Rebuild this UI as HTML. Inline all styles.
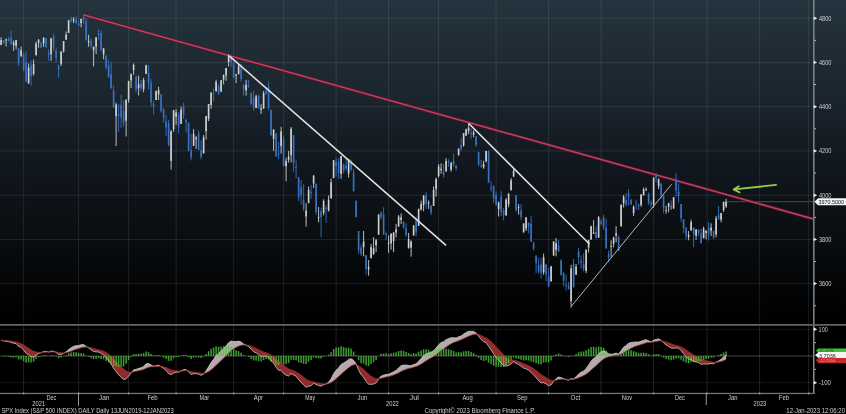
<!DOCTYPE html>
<html><head><meta charset="utf-8">
<style>
html,body{margin:0;padding:0;background:#000;width:846px;height:414px;overflow:hidden}
svg{display:block}
text{font-family:"Liberation Sans",sans-serif;fill:#cfcfcf}
</style></head><body>
<svg width="846" height="414" viewBox="0 0 846 414">
<defs>
<linearGradient id="bg" x1="0" y1="0" x2="0" y2="1">
<stop offset="0" stop-color="#24333d"/>
<stop offset="0.287" stop-color="#1b262e"/>
<stop offset="0.488" stop-color="#121820"/>
<stop offset="0.72" stop-color="#0a0e11"/>
<stop offset="0.9" stop-color="#030405"/>
<stop offset="1" stop-color="#000000"/>
</linearGradient>
</defs>
<rect x="0" y="0" width="846" height="324" fill="url(#bg)"/>
<g stroke="#ffffff" stroke-opacity="0.095" stroke-width="1" fill="none">
<path d="M0 18.2H813M0 62.4H813M0 106.7H813M0 150.9H813M0 195.2H813M0 239.4H813M0 283.6H813"/>
<path d="M23.6 0V324M78.6 0V324M128.6 0V324M176.1 0V324M233.6 0V324M283.6 0V324M336.1 0V324M388.6 0V324M438.6 0V324M496.1 0V324M548.6 0V324M601.1 0V324M653.6 0V324M707 0V324M759.6 0V324M808.6 0V324"/>

</g>
<g stroke="#ffffff" stroke-opacity="0.22" stroke-width="0.8" stroke-dasharray="1.2 1.2" fill="none">
<path d="M0 329.3H813M0 382.7H813"/>

</g>
<g stroke="#ffffff" stroke-opacity="0.16" stroke-width="0.8" fill="none"><path d="M23.6 326V393M78.6 326V393M128.6 326V393M176.1 326V393M233.6 326V393M283.6 326V393M336.1 326V393M388.6 326V393M438.6 326V393M496.1 326V393M548.6 326V393M601.1 326V393M653.6 326V393M707 326V393M759.6 326V393M808.6 326V393"/></g>
<line x1="0" y1="356" x2="813" y2="356" stroke="#ffffff" stroke-opacity="0.3" stroke-width="0.9"/>
<!-- last price line -->
<line x1="727" y1="201.7" x2="813" y2="201.7" stroke="#524b3c" stroke-width="1"/>
<line x1="83.6" y1="14.8" x2="813" y2="218.8" stroke="#701430" stroke-width="2.8"/>
<line x1="83.6" y1="14.8" x2="813" y2="218.8" stroke="#bc4c64" stroke-width="1.2"/>
<g id="candles">
<line x1="1.10" y1="37.2" x2="1.10" y2="45.0" stroke="#d0d0d0" stroke-width="0.9"/>
<rect x="0.30" y="40.1" width="1.6" height="4.9" fill="#d0d0d0"/>
<line x1="3.60" y1="40.1" x2="3.60" y2="43.9" stroke="#3873c4" stroke-width="0.9"/>
<rect x="2.80" y="40.1" width="1.6" height="2.9" fill="#3873c4"/>
<line x1="6.10" y1="38.6" x2="6.10" y2="46.5" stroke="#d0d0d0" stroke-width="0.9"/>
<rect x="5.30" y="39.4" width="1.6" height="1.0" fill="#d0d0d0"/>
<line x1="8.60" y1="36.6" x2="8.60" y2="41.6" stroke="#3873c4" stroke-width="0.9"/>
<rect x="7.80" y="38.6" width="1.6" height="2.2" fill="#3873c4"/>
<line x1="11.10" y1="30.8" x2="11.10" y2="44.3" stroke="#3873c4" stroke-width="0.9"/>
<rect x="10.30" y="37.7" width="1.6" height="6.6" fill="#3873c4"/>
<line x1="13.60" y1="40.5" x2="13.60" y2="50.9" stroke="#d0d0d0" stroke-width="0.9"/>
<rect x="12.80" y="42.5" width="1.6" height="2.7" fill="#d0d0d0"/>
<line x1="16.10" y1="39.9" x2="16.10" y2="49.4" stroke="#d0d0d0" stroke-width="0.9"/>
<rect x="15.30" y="40.1" width="1.6" height="5.8" fill="#d0d0d0"/>
<line x1="18.60" y1="48.3" x2="18.60" y2="65.8" stroke="#3873c4" stroke-width="0.9"/>
<rect x="17.80" y="48.3" width="1.6" height="15.3" fill="#3873c4"/>
<line x1="21.10" y1="46.5" x2="21.10" y2="56.9" stroke="#d0d0d0" stroke-width="0.9"/>
<rect x="20.30" y="50.3" width="1.6" height="6.0" fill="#d0d0d0"/>
<line x1="23.60" y1="52.3" x2="23.60" y2="71.3" stroke="#3873c4" stroke-width="0.9"/>
<rect x="22.80" y="53.6" width="1.6" height="16.1" fill="#3873c4"/>
<line x1="26.10" y1="50.9" x2="26.10" y2="82.3" stroke="#3873c4" stroke-width="0.9"/>
<rect x="25.30" y="62.0" width="1.6" height="19.7" fill="#3873c4"/>
<line x1="28.60" y1="63.5" x2="28.60" y2="83.7" stroke="#d0d0d0" stroke-width="0.9"/>
<rect x="27.80" y="67.5" width="1.6" height="16.1" fill="#d0d0d0"/>
<line x1="31.10" y1="60.7" x2="31.10" y2="85.7" stroke="#3873c4" stroke-width="0.9"/>
<rect x="30.30" y="64.9" width="1.6" height="11.3" fill="#3873c4"/>
<line x1="33.60" y1="59.6" x2="33.60" y2="75.7" stroke="#d0d0d0" stroke-width="0.9"/>
<rect x="32.80" y="64.2" width="1.6" height="9.7" fill="#d0d0d0"/>
<line x1="36.10" y1="41.6" x2="36.10" y2="55.4" stroke="#d0d0d0" stroke-width="0.9"/>
<rect x="35.30" y="43.4" width="1.6" height="11.9" fill="#d0d0d0"/>
<line x1="38.60" y1="39.0" x2="38.60" y2="47.8" stroke="#d0d0d0" stroke-width="0.9"/>
<rect x="37.80" y="40.1" width="1.6" height="2.4" fill="#d0d0d0"/>
<line x1="41.10" y1="41.4" x2="41.10" y2="48.1" stroke="#3873c4" stroke-width="0.9"/>
<rect x="40.30" y="43.0" width="1.6" height="4.6" fill="#3873c4"/>
<line x1="43.60" y1="37.4" x2="43.60" y2="47.0" stroke="#d0d0d0" stroke-width="0.9"/>
<rect x="42.80" y="37.7" width="1.6" height="5.5" fill="#d0d0d0"/>
<line x1="46.10" y1="37.9" x2="46.10" y2="47.8" stroke="#3873c4" stroke-width="0.9"/>
<rect x="45.30" y="37.9" width="1.6" height="9.5" fill="#3873c4"/>
<line x1="48.60" y1="49.2" x2="48.60" y2="60.7" stroke="#3873c4" stroke-width="0.9"/>
<rect x="47.80" y="52.9" width="1.6" height="2.0" fill="#3873c4"/>
<line x1="51.10" y1="38.1" x2="51.10" y2="60.9" stroke="#d0d0d0" stroke-width="0.9"/>
<rect x="50.30" y="38.3" width="1.6" height="15.9" fill="#d0d0d0"/>
<line x1="53.60" y1="33.5" x2="53.60" y2="51.2" stroke="#3873c4" stroke-width="0.9"/>
<rect x="52.80" y="35.9" width="1.6" height="11.5" fill="#3873c4"/>
<line x1="56.10" y1="47.8" x2="56.10" y2="62.4" stroke="#3873c4" stroke-width="0.9"/>
<rect x="55.30" y="50.9" width="1.6" height="7.1" fill="#3873c4"/>
<line x1="58.60" y1="64.4" x2="58.60" y2="77.7" stroke="#3873c4" stroke-width="0.9"/>
<rect x="57.80" y="65.3" width="1.6" height="4.2" fill="#3873c4"/>
<line x1="61.10" y1="51.2" x2="61.10" y2="66.0" stroke="#d0d0d0" stroke-width="0.9"/>
<rect x="60.30" y="51.6" width="1.6" height="12.2" fill="#d0d0d0"/>
<line x1="63.60" y1="41.0" x2="63.60" y2="52.5" stroke="#d0d0d0" stroke-width="0.9"/>
<rect x="62.80" y="41.0" width="1.6" height="10.4" fill="#d0d0d0"/>
<line x1="66.10" y1="31.5" x2="66.10" y2="39.7" stroke="#d0d0d0" stroke-width="0.9"/>
<rect x="65.30" y="34.6" width="1.6" height="5.1" fill="#d0d0d0"/>
<line x1="68.60" y1="20.2" x2="68.60" y2="33.0" stroke="#d0d0d0" stroke-width="0.9"/>
<rect x="67.80" y="20.2" width="1.6" height="12.8" fill="#d0d0d0"/>
<line x1="71.10" y1="16.7" x2="71.10" y2="22.6" stroke="#3873c4" stroke-width="0.9"/>
<rect x="70.30" y="19.3" width="1.6" height="2.0" fill="#3873c4"/>
<line x1="73.60" y1="17.1" x2="73.60" y2="23.1" stroke="#d0d0d0" stroke-width="0.9"/>
<rect x="72.80" y="19.7" width="1.6" height="1.1" fill="#d0d0d0"/>
<line x1="76.10" y1="16.4" x2="76.10" y2="23.7" stroke="#3873c4" stroke-width="0.9"/>
<rect x="75.30" y="19.5" width="1.6" height="3.5" fill="#3873c4"/>
<line x1="78.60" y1="21.1" x2="78.60" y2="25.9" stroke="#3873c4" stroke-width="0.9"/>
<rect x="77.80" y="23.7" width="1.6" height="2.0" fill="#3873c4"/>
<line x1="81.10" y1="18.9" x2="81.10" y2="27.3" stroke="#d0d0d0" stroke-width="0.9"/>
<rect x="80.30" y="18.9" width="1.6" height="4.2" fill="#d0d0d0"/>
<line x1="83.60" y1="14.2" x2="83.60" y2="24.0" stroke="#3873c4" stroke-width="0.9"/>
<rect x="82.80" y="17.3" width="1.6" height="2.4" fill="#3873c4"/>
<line x1="86.10" y1="18.6" x2="86.10" y2="40.5" stroke="#3873c4" stroke-width="0.9"/>
<rect x="85.30" y="21.1" width="1.6" height="19.2" fill="#3873c4"/>
<line x1="88.60" y1="34.8" x2="88.60" y2="46.7" stroke="#d0d0d0" stroke-width="0.9"/>
<rect x="87.80" y="41.2" width="1.6" height="1.0" fill="#d0d0d0"/>
<line x1="91.10" y1="38.8" x2="91.10" y2="48.5" stroke="#3873c4" stroke-width="0.9"/>
<rect x="90.30" y="40.8" width="1.6" height="4.6" fill="#3873c4"/>
<line x1="93.60" y1="46.3" x2="93.60" y2="66.4" stroke="#d0d0d0" stroke-width="0.9"/>
<rect x="92.80" y="47.0" width="1.6" height="3.3" fill="#d0d0d0"/>
<line x1="96.10" y1="37.2" x2="96.10" y2="54.0" stroke="#d0d0d0" stroke-width="0.9"/>
<rect x="95.30" y="37.4" width="1.6" height="9.5" fill="#d0d0d0"/>
<line x1="98.60" y1="29.5" x2="98.60" y2="39.9" stroke="#3873c4" stroke-width="0.9"/>
<rect x="97.80" y="34.1" width="1.6" height="1.0" fill="#3873c4"/>
<line x1="101.10" y1="30.6" x2="101.10" y2="51.2" stroke="#3873c4" stroke-width="0.9"/>
<rect x="100.30" y="32.8" width="1.6" height="16.6" fill="#3873c4"/>
<line x1="103.60" y1="48.1" x2="103.60" y2="59.3" stroke="#d0d0d0" stroke-width="0.9"/>
<rect x="102.80" y="48.5" width="1.6" height="5.8" fill="#d0d0d0"/>
<line x1="106.10" y1="55.4" x2="106.10" y2="69.3" stroke="#3873c4" stroke-width="0.9"/>
<rect x="105.30" y="55.4" width="1.6" height="12.2" fill="#3873c4"/>
<line x1="108.60" y1="59.8" x2="108.60" y2="77.7" stroke="#3873c4" stroke-width="0.9"/>
<rect x="107.80" y="65.1" width="1.6" height="12.2" fill="#3873c4"/>
<line x1="111.10" y1="62.0" x2="111.10" y2="88.3" stroke="#3873c4" stroke-width="0.9"/>
<rect x="110.30" y="74.2" width="1.6" height="14.2" fill="#3873c4"/>
<line x1="113.60" y1="85.7" x2="113.60" y2="107.6" stroke="#3873c4" stroke-width="0.9"/>
<rect x="112.80" y="91.0" width="1.6" height="16.1" fill="#3873c4"/>
<line x1="116.10" y1="102.7" x2="116.10" y2="146.1" stroke="#d0d0d0" stroke-width="0.9"/>
<rect x="115.30" y="104.5" width="1.6" height="11.7" fill="#d0d0d0"/>
<line x1="118.60" y1="104.2" x2="118.60" y2="131.7" stroke="#3873c4" stroke-width="0.9"/>
<rect x="117.80" y="114.2" width="1.6" height="2.0" fill="#3873c4"/>
<line x1="121.10" y1="95.0" x2="121.10" y2="127.9" stroke="#3873c4" stroke-width="0.9"/>
<rect x="120.30" y="104.9" width="1.6" height="12.8" fill="#3873c4"/>
<line x1="123.60" y1="100.3" x2="123.60" y2="126.8" stroke="#3873c4" stroke-width="0.9"/>
<rect x="122.80" y="110.9" width="1.6" height="11.9" fill="#3873c4"/>
<line x1="126.10" y1="99.6" x2="126.10" y2="136.5" stroke="#d0d0d0" stroke-width="0.9"/>
<rect x="125.30" y="99.6" width="1.6" height="21.0" fill="#d0d0d0"/>
<line x1="128.60" y1="80.8" x2="128.60" y2="102.7" stroke="#d0d0d0" stroke-width="0.9"/>
<rect x="127.80" y="81.0" width="1.6" height="18.8" fill="#d0d0d0"/>
<line x1="131.10" y1="73.3" x2="131.10" y2="88.1" stroke="#d0d0d0" stroke-width="0.9"/>
<rect x="130.30" y="74.4" width="1.6" height="6.0" fill="#d0d0d0"/>
<line x1="133.60" y1="63.5" x2="133.60" y2="74.8" stroke="#d0d0d0" stroke-width="0.9"/>
<rect x="132.80" y="64.9" width="1.6" height="5.1" fill="#d0d0d0"/>
<line x1="136.10" y1="75.3" x2="136.10" y2="92.5" stroke="#3873c4" stroke-width="0.9"/>
<rect x="135.30" y="76.8" width="1.6" height="12.8" fill="#3873c4"/>
<line x1="138.60" y1="75.7" x2="138.60" y2="95.4" stroke="#d0d0d0" stroke-width="0.9"/>
<rect x="137.80" y="84.3" width="1.6" height="4.0" fill="#d0d0d0"/>
<line x1="141.10" y1="79.9" x2="141.10" y2="91.0" stroke="#3873c4" stroke-width="0.9"/>
<rect x="140.30" y="83.5" width="1.6" height="4.6" fill="#3873c4"/>
<line x1="143.60" y1="77.7" x2="143.60" y2="92.3" stroke="#d0d0d0" stroke-width="0.9"/>
<rect x="142.80" y="79.9" width="1.6" height="9.1" fill="#d0d0d0"/>
<line x1="146.10" y1="64.7" x2="146.10" y2="73.9" stroke="#d0d0d0" stroke-width="0.9"/>
<rect x="145.30" y="65.3" width="1.6" height="8.6" fill="#d0d0d0"/>
<line x1="148.60" y1="65.1" x2="148.60" y2="89.6" stroke="#3873c4" stroke-width="0.9"/>
<rect x="147.80" y="72.8" width="1.6" height="10.8" fill="#3873c4"/>
<line x1="151.10" y1="78.6" x2="151.10" y2="106.5" stroke="#3873c4" stroke-width="0.9"/>
<rect x="150.30" y="83.2" width="1.6" height="19.2" fill="#3873c4"/>
<line x1="153.60" y1="100.7" x2="153.60" y2="114.4" stroke="#3873c4" stroke-width="0.9"/>
<rect x="152.80" y="104.0" width="1.6" height="2.4" fill="#3873c4"/>
<line x1="156.10" y1="90.8" x2="156.10" y2="100.0" stroke="#d0d0d0" stroke-width="0.9"/>
<rect x="155.30" y="90.8" width="1.6" height="9.3" fill="#d0d0d0"/>
<line x1="158.60" y1="86.8" x2="158.60" y2="100.0" stroke="#d0d0d0" stroke-width="0.9"/>
<rect x="157.80" y="90.1" width="1.6" height="4.4" fill="#d0d0d0"/>
<line x1="161.10" y1="94.3" x2="161.10" y2="112.4" stroke="#3873c4" stroke-width="0.9"/>
<rect x="160.30" y="94.3" width="1.6" height="16.8" fill="#3873c4"/>
<line x1="163.60" y1="108.0" x2="163.60" y2="122.8" stroke="#3873c4" stroke-width="0.9"/>
<rect x="162.80" y="110.0" width="1.6" height="8.0" fill="#3873c4"/>
<line x1="166.10" y1="115.1" x2="166.10" y2="135.9" stroke="#3873c4" stroke-width="0.9"/>
<rect x="165.30" y="121.7" width="1.6" height="6.0" fill="#3873c4"/>
<line x1="168.60" y1="120.0" x2="168.60" y2="146.3" stroke="#3873c4" stroke-width="0.9"/>
<rect x="167.80" y="123.3" width="1.6" height="21.9" fill="#3873c4"/>
<line x1="171.10" y1="129.9" x2="171.10" y2="169.7" stroke="#d0d0d0" stroke-width="0.9"/>
<rect x="170.30" y="131.5" width="1.6" height="29.4" fill="#d0d0d0"/>
<line x1="173.60" y1="110.0" x2="173.60" y2="131.9" stroke="#d0d0d0" stroke-width="0.9"/>
<rect x="172.80" y="110.0" width="1.6" height="19.2" fill="#d0d0d0"/>
<line x1="176.10" y1="109.1" x2="176.10" y2="124.8" stroke="#d0d0d0" stroke-width="0.9"/>
<rect x="175.30" y="112.4" width="1.6" height="4.4" fill="#d0d0d0"/>
<line x1="178.60" y1="112.2" x2="178.60" y2="133.4" stroke="#3873c4" stroke-width="0.9"/>
<rect x="177.80" y="114.6" width="1.6" height="12.8" fill="#3873c4"/>
<line x1="181.10" y1="106.5" x2="181.10" y2="123.9" stroke="#d0d0d0" stroke-width="0.9"/>
<rect x="180.30" y="109.6" width="1.6" height="14.4" fill="#d0d0d0"/>
<line x1="183.60" y1="102.9" x2="183.60" y2="118.8" stroke="#3873c4" stroke-width="0.9"/>
<rect x="182.80" y="106.5" width="1.6" height="8.4" fill="#3873c4"/>
<line x1="186.10" y1="119.3" x2="186.10" y2="132.3" stroke="#3873c4" stroke-width="0.9"/>
<rect x="185.30" y="119.5" width="1.6" height="2.9" fill="#3873c4"/>
<line x1="188.60" y1="122.8" x2="188.60" y2="151.1" stroke="#3873c4" stroke-width="0.9"/>
<rect x="187.80" y="122.8" width="1.6" height="27.9" fill="#3873c4"/>
<line x1="191.10" y1="133.9" x2="191.10" y2="160.4" stroke="#3873c4" stroke-width="0.9"/>
<rect x="190.30" y="150.5" width="1.6" height="6.9" fill="#3873c4"/>
<line x1="193.60" y1="129.0" x2="193.60" y2="145.8" stroke="#d0d0d0" stroke-width="0.9"/>
<rect x="192.80" y="133.7" width="1.6" height="12.2" fill="#d0d0d0"/>
<line x1="196.10" y1="135.9" x2="196.10" y2="148.9" stroke="#d0d0d0" stroke-width="0.9"/>
<rect x="195.30" y="137.6" width="1.6" height="1.5" fill="#d0d0d0"/>
<line x1="198.60" y1="130.6" x2="198.60" y2="150.5" stroke="#3873c4" stroke-width="0.9"/>
<rect x="197.80" y="133.4" width="1.6" height="16.6" fill="#3873c4"/>
<line x1="201.10" y1="140.5" x2="201.10" y2="159.5" stroke="#3873c4" stroke-width="0.9"/>
<rect x="200.30" y="150.3" width="1.6" height="6.6" fill="#3873c4"/>
<line x1="203.60" y1="135.0" x2="203.60" y2="153.6" stroke="#d0d0d0" stroke-width="0.9"/>
<rect x="202.80" y="137.2" width="1.6" height="16.1" fill="#d0d0d0"/>
<line x1="206.10" y1="116.0" x2="206.10" y2="139.6" stroke="#d0d0d0" stroke-width="0.9"/>
<rect x="205.30" y="116.0" width="1.6" height="15.3" fill="#d0d0d0"/>
<line x1="208.60" y1="104.0" x2="208.60" y2="121.1" stroke="#d0d0d0" stroke-width="0.9"/>
<rect x="207.80" y="104.0" width="1.6" height="14.8" fill="#d0d0d0"/>
<line x1="211.10" y1="92.3" x2="211.10" y2="108.9" stroke="#d0d0d0" stroke-width="0.9"/>
<rect x="210.30" y="92.7" width="1.6" height="12.4" fill="#d0d0d0"/>
<line x1="213.60" y1="88.8" x2="213.60" y2="101.4" stroke="#3873c4" stroke-width="0.9"/>
<rect x="212.80" y="93.0" width="1.6" height="1.0" fill="#3873c4"/>
<line x1="216.10" y1="79.7" x2="216.10" y2="91.4" stroke="#d0d0d0" stroke-width="0.9"/>
<rect x="215.30" y="81.9" width="1.6" height="9.5" fill="#d0d0d0"/>
<line x1="218.60" y1="84.3" x2="218.60" y2="94.5" stroke="#3873c4" stroke-width="0.9"/>
<rect x="217.80" y="86.1" width="1.6" height="8.2" fill="#3873c4"/>
<line x1="221.10" y1="80.1" x2="221.10" y2="92.3" stroke="#d0d0d0" stroke-width="0.9"/>
<rect x="220.30" y="80.1" width="1.6" height="11.3" fill="#d0d0d0"/>
<line x1="223.60" y1="74.4" x2="223.60" y2="84.3" stroke="#d0d0d0" stroke-width="0.9"/>
<rect x="222.80" y="75.0" width="1.6" height="4.6" fill="#d0d0d0"/>
<line x1="226.10" y1="68.0" x2="226.10" y2="80.8" stroke="#d0d0d0" stroke-width="0.9"/>
<rect x="225.30" y="68.0" width="1.6" height="7.5" fill="#d0d0d0"/>
<line x1="228.60" y1="54.3" x2="228.60" y2="66.4" stroke="#d0d0d0" stroke-width="0.9"/>
<rect x="227.80" y="55.4" width="1.6" height="6.6" fill="#d0d0d0"/>
<line x1="231.10" y1="56.5" x2="231.10" y2="66.6" stroke="#3873c4" stroke-width="0.9"/>
<rect x="230.30" y="57.1" width="1.6" height="4.9" fill="#3873c4"/>
<line x1="233.60" y1="61.6" x2="233.60" y2="77.9" stroke="#3873c4" stroke-width="0.9"/>
<rect x="232.80" y="62.7" width="1.6" height="15.3" fill="#3873c4"/>
<line x1="236.10" y1="73.9" x2="236.10" y2="83.0" stroke="#d0d0d0" stroke-width="0.9"/>
<rect x="235.30" y="74.4" width="1.6" height="1.3" fill="#d0d0d0"/>
<line x1="238.60" y1="64.0" x2="238.60" y2="74.2" stroke="#d0d0d0" stroke-width="0.9"/>
<rect x="237.80" y="66.2" width="1.6" height="8.0" fill="#d0d0d0"/>
<line x1="241.10" y1="64.0" x2="241.10" y2="81.5" stroke="#3873c4" stroke-width="0.9"/>
<rect x="240.30" y="68.6" width="1.6" height="10.4" fill="#3873c4"/>
<line x1="243.60" y1="83.9" x2="243.60" y2="95.6" stroke="#3873c4" stroke-width="0.9"/>
<rect x="242.80" y="85.7" width="1.6" height="3.1" fill="#3873c4"/>
<line x1="246.10" y1="79.9" x2="246.10" y2="95.6" stroke="#d0d0d0" stroke-width="0.9"/>
<rect x="245.30" y="84.6" width="1.6" height="5.8" fill="#d0d0d0"/>
<line x1="248.60" y1="79.9" x2="248.60" y2="87.2" stroke="#3873c4" stroke-width="0.9"/>
<rect x="247.80" y="85.9" width="1.6" height="1.3" fill="#3873c4"/>
<line x1="251.10" y1="92.5" x2="251.10" y2="104.9" stroke="#3873c4" stroke-width="0.9"/>
<rect x="250.30" y="93.0" width="1.6" height="10.8" fill="#3873c4"/>
<line x1="253.60" y1="91.0" x2="253.60" y2="110.7" stroke="#3873c4" stroke-width="0.9"/>
<rect x="252.80" y="98.5" width="1.6" height="8.8" fill="#3873c4"/>
<line x1="256.10" y1="94.7" x2="256.10" y2="108.2" stroke="#d0d0d0" stroke-width="0.9"/>
<rect x="255.30" y="96.5" width="1.6" height="11.5" fill="#d0d0d0"/>
<line x1="258.60" y1="95.0" x2="258.60" y2="108.4" stroke="#3873c4" stroke-width="0.9"/>
<rect x="257.80" y="95.8" width="1.6" height="12.6" fill="#3873c4"/>
<line x1="261.10" y1="104.2" x2="261.10" y2="114.0" stroke="#d0d0d0" stroke-width="0.9"/>
<rect x="260.30" y="108.4" width="1.6" height="1.5" fill="#d0d0d0"/>
<line x1="263.60" y1="91.0" x2="263.60" y2="108.7" stroke="#d0d0d0" stroke-width="0.9"/>
<rect x="262.80" y="93.0" width="1.6" height="15.7" fill="#d0d0d0"/>
<line x1="266.10" y1="87.0" x2="266.10" y2="94.5" stroke="#3873c4" stroke-width="0.9"/>
<rect x="265.30" y="90.5" width="1.6" height="3.1" fill="#3873c4"/>
<line x1="268.60" y1="81.7" x2="268.60" y2="110.0" stroke="#3873c4" stroke-width="0.9"/>
<rect x="267.80" y="86.8" width="1.6" height="21.2" fill="#3873c4"/>
<line x1="271.10" y1="109.8" x2="271.10" y2="136.1" stroke="#3873c4" stroke-width="0.9"/>
<rect x="270.30" y="110.0" width="1.6" height="25.0" fill="#3873c4"/>
<line x1="273.60" y1="129.0" x2="273.60" y2="150.9" stroke="#d0d0d0" stroke-width="0.9"/>
<rect x="272.80" y="129.7" width="1.6" height="9.1" fill="#d0d0d0"/>
<line x1="276.10" y1="133.4" x2="276.10" y2="156.4" stroke="#3873c4" stroke-width="0.9"/>
<rect x="275.30" y="133.4" width="1.6" height="23.0" fill="#3873c4"/>
<line x1="278.60" y1="142.1" x2="278.60" y2="159.3" stroke="#3873c4" stroke-width="0.9"/>
<rect x="277.80" y="153.8" width="1.6" height="1.0" fill="#3873c4"/>
<line x1="281.10" y1="126.8" x2="281.10" y2="153.6" stroke="#d0d0d0" stroke-width="0.9"/>
<rect x="280.30" y="131.5" width="1.6" height="14.6" fill="#d0d0d0"/>
<line x1="283.60" y1="135.7" x2="283.60" y2="166.2" stroke="#3873c4" stroke-width="0.9"/>
<rect x="282.80" y="139.2" width="1.6" height="26.8" fill="#3873c4"/>
<line x1="286.10" y1="157.8" x2="286.10" y2="181.4" stroke="#d0d0d0" stroke-width="0.9"/>
<rect x="285.30" y="160.9" width="1.6" height="5.3" fill="#d0d0d0"/>
<line x1="288.60" y1="150.9" x2="288.60" y2="162.6" stroke="#d0d0d0" stroke-width="0.9"/>
<rect x="287.80" y="156.4" width="1.6" height="3.5" fill="#d0d0d0"/>
<line x1="291.10" y1="127.0" x2="291.10" y2="162.4" stroke="#d0d0d0" stroke-width="0.9"/>
<rect x="290.30" y="128.8" width="1.6" height="26.3" fill="#d0d0d0"/>
<line x1="293.60" y1="135.2" x2="293.60" y2="171.5" stroke="#3873c4" stroke-width="0.9"/>
<rect x="292.80" y="135.2" width="1.6" height="27.4" fill="#3873c4"/>
<line x1="296.10" y1="160.2" x2="296.10" y2="178.1" stroke="#3873c4" stroke-width="0.9"/>
<rect x="295.30" y="166.8" width="1.6" height="1.1" fill="#3873c4"/>
<line x1="298.60" y1="177.0" x2="298.60" y2="200.7" stroke="#3873c4" stroke-width="0.9"/>
<rect x="297.80" y="177.2" width="1.6" height="19.9" fill="#3873c4"/>
<line x1="301.10" y1="179.9" x2="301.10" y2="204.5" stroke="#3873c4" stroke-width="0.9"/>
<rect x="300.30" y="187.2" width="1.6" height="7.7" fill="#3873c4"/>
<line x1="303.60" y1="184.3" x2="303.60" y2="211.1" stroke="#3873c4" stroke-width="0.9"/>
<rect x="302.80" y="199.8" width="1.6" height="9.5" fill="#3873c4"/>
<line x1="306.10" y1="203.1" x2="306.10" y2="226.6" stroke="#d0d0d0" stroke-width="0.9"/>
<rect x="305.30" y="210.6" width="1.6" height="5.8" fill="#d0d0d0"/>
<line x1="308.60" y1="186.5" x2="308.60" y2="203.1" stroke="#d0d0d0" stroke-width="0.9"/>
<rect x="307.80" y="189.9" width="1.6" height="13.3" fill="#d0d0d0"/>
<line x1="311.10" y1="185.0" x2="311.10" y2="198.7" stroke="#3873c4" stroke-width="0.9"/>
<rect x="310.30" y="192.3" width="1.6" height="1.1" fill="#3873c4"/>
<line x1="313.60" y1="175.3" x2="313.60" y2="187.9" stroke="#d0d0d0" stroke-width="0.9"/>
<rect x="312.80" y="175.5" width="1.6" height="8.0" fill="#d0d0d0"/>
<line x1="316.10" y1="183.7" x2="316.10" y2="214.8" stroke="#3873c4" stroke-width="0.9"/>
<rect x="315.30" y="183.7" width="1.6" height="28.3" fill="#3873c4"/>
<line x1="318.60" y1="207.1" x2="318.60" y2="222.4" stroke="#d0d0d0" stroke-width="0.9"/>
<rect x="317.80" y="217.1" width="1.6" height="1.0" fill="#d0d0d0"/>
<line x1="321.10" y1="207.8" x2="321.10" y2="237.2" stroke="#3873c4" stroke-width="0.9"/>
<rect x="320.30" y="211.3" width="1.6" height="5.8" fill="#3873c4"/>
<line x1="323.60" y1="199.4" x2="323.60" y2="215.3" stroke="#d0d0d0" stroke-width="0.9"/>
<rect x="322.80" y="200.9" width="1.6" height="11.9" fill="#d0d0d0"/>
<line x1="326.10" y1="205.1" x2="326.10" y2="222.8" stroke="#3873c4" stroke-width="0.9"/>
<rect x="325.30" y="207.8" width="1.6" height="1.0" fill="#3873c4"/>
<line x1="328.60" y1="195.4" x2="328.60" y2="211.5" stroke="#d0d0d0" stroke-width="0.9"/>
<rect x="327.80" y="199.8" width="1.6" height="10.8" fill="#d0d0d0"/>
<line x1="331.10" y1="178.6" x2="331.10" y2="198.5" stroke="#d0d0d0" stroke-width="0.9"/>
<rect x="330.30" y="182.3" width="1.6" height="16.1" fill="#d0d0d0"/>
<line x1="333.60" y1="160.2" x2="333.60" y2="178.1" stroke="#d0d0d0" stroke-width="0.9"/>
<rect x="332.80" y="160.2" width="1.6" height="17.9" fill="#d0d0d0"/>
<line x1="336.10" y1="157.8" x2="336.10" y2="176.6" stroke="#3873c4" stroke-width="0.9"/>
<rect x="335.30" y="161.8" width="1.6" height="4.2" fill="#3873c4"/>
<line x1="338.60" y1="158.2" x2="338.60" y2="178.8" stroke="#3873c4" stroke-width="0.9"/>
<rect x="337.80" y="162.2" width="1.6" height="10.6" fill="#3873c4"/>
<line x1="341.10" y1="156.0" x2="341.10" y2="178.8" stroke="#d0d0d0" stroke-width="0.9"/>
<rect x="340.30" y="156.0" width="1.6" height="17.9" fill="#d0d0d0"/>
<line x1="343.60" y1="163.5" x2="343.60" y2="173.5" stroke="#3873c4" stroke-width="0.9"/>
<rect x="342.80" y="164.9" width="1.6" height="6.2" fill="#3873c4"/>
<line x1="346.10" y1="158.0" x2="346.10" y2="170.8" stroke="#3873c4" stroke-width="0.9"/>
<rect x="345.30" y="165.5" width="1.6" height="2.9" fill="#3873c4"/>
<line x1="348.60" y1="158.9" x2="348.60" y2="177.5" stroke="#d0d0d0" stroke-width="0.9"/>
<rect x="347.80" y="159.5" width="1.6" height="14.2" fill="#d0d0d0"/>
<line x1="351.10" y1="159.8" x2="351.10" y2="171.5" stroke="#3873c4" stroke-width="0.9"/>
<rect x="350.30" y="162.4" width="1.6" height="7.1" fill="#3873c4"/>
<line x1="353.60" y1="168.6" x2="353.60" y2="191.4" stroke="#3873c4" stroke-width="0.9"/>
<rect x="352.80" y="172.6" width="1.6" height="18.6" fill="#3873c4"/>
<line x1="356.10" y1="200.7" x2="356.10" y2="217.3" stroke="#3873c4" stroke-width="0.9"/>
<rect x="355.30" y="200.7" width="1.6" height="16.4" fill="#3873c4"/>
<line x1="358.60" y1="231.0" x2="358.60" y2="254.0" stroke="#3873c4" stroke-width="0.9"/>
<rect x="357.80" y="231.0" width="1.6" height="19.5" fill="#3873c4"/>
<line x1="361.10" y1="244.3" x2="361.10" y2="256.0" stroke="#3873c4" stroke-width="0.9"/>
<rect x="360.30" y="247.6" width="1.6" height="6.2" fill="#3873c4"/>
<line x1="363.60" y1="231.0" x2="363.60" y2="256.4" stroke="#d0d0d0" stroke-width="0.9"/>
<rect x="362.80" y="241.6" width="1.6" height="5.8" fill="#d0d0d0"/>
<line x1="366.10" y1="255.1" x2="366.10" y2="274.8" stroke="#3873c4" stroke-width="0.9"/>
<rect x="365.30" y="255.1" width="1.6" height="13.7" fill="#3873c4"/>
<line x1="368.60" y1="260.0" x2="368.60" y2="275.7" stroke="#d0d0d0" stroke-width="0.9"/>
<rect x="367.80" y="267.1" width="1.6" height="2.2" fill="#d0d0d0"/>
<line x1="371.10" y1="243.8" x2="371.10" y2="258.2" stroke="#d0d0d0" stroke-width="0.9"/>
<rect x="370.30" y="247.1" width="1.6" height="11.1" fill="#d0d0d0"/>
<line x1="373.60" y1="237.2" x2="373.60" y2="254.9" stroke="#d0d0d0" stroke-width="0.9"/>
<rect x="372.80" y="248.2" width="1.6" height="5.8" fill="#d0d0d0"/>
<line x1="376.10" y1="239.0" x2="376.10" y2="252.0" stroke="#d0d0d0" stroke-width="0.9"/>
<rect x="375.30" y="240.3" width="1.6" height="4.9" fill="#d0d0d0"/>
<line x1="378.60" y1="214.2" x2="378.60" y2="234.8" stroke="#d0d0d0" stroke-width="0.9"/>
<rect x="377.80" y="214.6" width="1.6" height="20.1" fill="#d0d0d0"/>
<line x1="381.10" y1="211.1" x2="381.10" y2="219.7" stroke="#3873c4" stroke-width="0.9"/>
<rect x="380.30" y="212.9" width="1.6" height="4.2" fill="#3873c4"/>
<line x1="383.60" y1="207.3" x2="383.60" y2="235.0" stroke="#3873c4" stroke-width="0.9"/>
<rect x="382.80" y="214.4" width="1.6" height="20.1" fill="#3873c4"/>
<line x1="386.10" y1="231.4" x2="386.10" y2="239.6" stroke="#3873c4" stroke-width="0.9"/>
<rect x="385.30" y="233.6" width="1.6" height="1.5" fill="#3873c4"/>
<line x1="388.60" y1="235.4" x2="388.60" y2="252.9" stroke="#d0d0d0" stroke-width="0.9"/>
<rect x="387.80" y="242.7" width="1.6" height="1.0" fill="#d0d0d0"/>
<line x1="391.10" y1="233.0" x2="391.10" y2="249.8" stroke="#d0d0d0" stroke-width="0.9"/>
<rect x="390.30" y="233.9" width="1.6" height="9.5" fill="#d0d0d0"/>
<line x1="393.60" y1="232.3" x2="393.60" y2="252.2" stroke="#d0d0d0" stroke-width="0.9"/>
<rect x="392.80" y="232.5" width="1.6" height="8.6" fill="#d0d0d0"/>
<line x1="396.10" y1="223.9" x2="396.10" y2="237.4" stroke="#d0d0d0" stroke-width="0.9"/>
<rect x="395.30" y="229.4" width="1.6" height="3.1" fill="#d0d0d0"/>
<line x1="398.60" y1="215.1" x2="398.60" y2="226.6" stroke="#d0d0d0" stroke-width="0.9"/>
<rect x="397.80" y="216.6" width="1.6" height="10.0" fill="#d0d0d0"/>
<line x1="401.10" y1="213.3" x2="401.10" y2="224.1" stroke="#d0d0d0" stroke-width="0.9"/>
<rect x="400.30" y="217.5" width="1.6" height="2.4" fill="#d0d0d0"/>
<line x1="403.60" y1="221.7" x2="403.60" y2="229.0" stroke="#3873c4" stroke-width="0.9"/>
<rect x="402.80" y="221.7" width="1.6" height="5.5" fill="#3873c4"/>
<line x1="406.10" y1="223.3" x2="406.10" y2="236.7" stroke="#3873c4" stroke-width="0.9"/>
<rect x="405.30" y="228.1" width="1.6" height="7.1" fill="#3873c4"/>
<line x1="408.60" y1="233.0" x2="408.60" y2="248.7" stroke="#d0d0d0" stroke-width="0.9"/>
<rect x="407.80" y="239.0" width="1.6" height="8.8" fill="#d0d0d0"/>
<line x1="411.10" y1="240.3" x2="411.10" y2="256.7" stroke="#d0d0d0" stroke-width="0.9"/>
<rect x="410.30" y="241.6" width="1.6" height="6.0" fill="#d0d0d0"/>
<line x1="413.60" y1="225.2" x2="413.60" y2="235.4" stroke="#d0d0d0" stroke-width="0.9"/>
<rect x="412.80" y="225.5" width="1.6" height="10.0" fill="#d0d0d0"/>
<line x1="416.10" y1="216.6" x2="416.10" y2="236.3" stroke="#3873c4" stroke-width="0.9"/>
<rect x="415.30" y="221.0" width="1.6" height="11.5" fill="#3873c4"/>
<line x1="418.60" y1="208.4" x2="418.60" y2="225.9" stroke="#d0d0d0" stroke-width="0.9"/>
<rect x="417.80" y="209.1" width="1.6" height="16.8" fill="#d0d0d0"/>
<line x1="421.10" y1="200.7" x2="421.10" y2="210.6" stroke="#d0d0d0" stroke-width="0.9"/>
<rect x="420.30" y="204.0" width="1.6" height="5.5" fill="#d0d0d0"/>
<line x1="423.60" y1="195.4" x2="423.60" y2="211.3" stroke="#d0d0d0" stroke-width="0.9"/>
<rect x="422.80" y="195.4" width="1.6" height="9.7" fill="#d0d0d0"/>
<line x1="426.10" y1="192.3" x2="426.10" y2="208.7" stroke="#3873c4" stroke-width="0.9"/>
<rect x="425.30" y="195.4" width="1.6" height="8.2" fill="#3873c4"/>
<line x1="428.60" y1="200.5" x2="428.60" y2="209.1" stroke="#d0d0d0" stroke-width="0.9"/>
<rect x="427.80" y="202.5" width="1.6" height="1.0" fill="#d0d0d0"/>
<line x1="431.10" y1="205.3" x2="431.10" y2="215.1" stroke="#3873c4" stroke-width="0.9"/>
<rect x="430.30" y="205.6" width="1.6" height="7.1" fill="#3873c4"/>
<line x1="433.60" y1="186.5" x2="433.60" y2="206.0" stroke="#d0d0d0" stroke-width="0.9"/>
<rect x="432.80" y="189.9" width="1.6" height="16.1" fill="#d0d0d0"/>
<line x1="436.10" y1="177.7" x2="436.10" y2="196.7" stroke="#d0d0d0" stroke-width="0.9"/>
<rect x="435.30" y="179.0" width="1.6" height="10.2" fill="#d0d0d0"/>
<line x1="438.60" y1="164.0" x2="438.60" y2="177.5" stroke="#d0d0d0" stroke-width="0.9"/>
<rect x="437.80" y="166.4" width="1.6" height="9.5" fill="#d0d0d0"/>
<line x1="441.10" y1="163.3" x2="441.10" y2="173.7" stroke="#d0d0d0" stroke-width="0.9"/>
<rect x="440.30" y="168.8" width="1.6" height="1.3" fill="#d0d0d0"/>
<line x1="443.60" y1="164.0" x2="443.60" y2="177.7" stroke="#3873c4" stroke-width="0.9"/>
<rect x="442.80" y="171.9" width="1.6" height="3.1" fill="#3873c4"/>
<line x1="446.10" y1="158.2" x2="446.10" y2="171.5" stroke="#d0d0d0" stroke-width="0.9"/>
<rect x="445.30" y="160.9" width="1.6" height="10.6" fill="#d0d0d0"/>
<line x1="448.60" y1="159.3" x2="448.60" y2="166.8" stroke="#3873c4" stroke-width="0.9"/>
<rect x="447.80" y="161.1" width="1.6" height="1.0" fill="#3873c4"/>
<line x1="451.10" y1="161.8" x2="451.10" y2="171.5" stroke="#d0d0d0" stroke-width="0.9"/>
<rect x="450.30" y="163.1" width="1.6" height="6.6" fill="#d0d0d0"/>
<line x1="453.60" y1="153.8" x2="453.60" y2="166.8" stroke="#3873c4" stroke-width="0.9"/>
<rect x="452.80" y="160.9" width="1.6" height="3.3" fill="#3873c4"/>
<line x1="456.10" y1="164.9" x2="456.10" y2="170.4" stroke="#3873c4" stroke-width="0.9"/>
<rect x="455.30" y="165.7" width="1.6" height="2.4" fill="#3873c4"/>
<line x1="458.60" y1="148.5" x2="458.60" y2="155.8" stroke="#d0d0d0" stroke-width="0.9"/>
<rect x="457.80" y="148.7" width="1.6" height="6.4" fill="#d0d0d0"/>
<line x1="461.10" y1="138.1" x2="461.10" y2="150.7" stroke="#3873c4" stroke-width="0.9"/>
<rect x="460.30" y="144.9" width="1.6" height="4.2" fill="#3873c4"/>
<line x1="463.60" y1="133.2" x2="463.60" y2="146.7" stroke="#d0d0d0" stroke-width="0.9"/>
<rect x="462.80" y="133.2" width="1.6" height="12.2" fill="#d0d0d0"/>
<line x1="466.10" y1="128.6" x2="466.10" y2="135.9" stroke="#d0d0d0" stroke-width="0.9"/>
<rect x="465.30" y="129.5" width="1.6" height="6.0" fill="#d0d0d0"/>
<line x1="468.60" y1="123.3" x2="468.60" y2="133.9" stroke="#d0d0d0" stroke-width="0.9"/>
<rect x="467.80" y="127.7" width="1.6" height="3.3" fill="#d0d0d0"/>
<line x1="471.10" y1="128.4" x2="471.10" y2="139.2" stroke="#3873c4" stroke-width="0.9"/>
<rect x="470.30" y="133.2" width="1.6" height="1.1" fill="#3873c4"/>
<line x1="473.60" y1="130.3" x2="473.60" y2="137.2" stroke="#d0d0d0" stroke-width="0.9"/>
<rect x="472.80" y="132.3" width="1.6" height="2.4" fill="#d0d0d0"/>
<line x1="476.10" y1="136.3" x2="476.10" y2="146.9" stroke="#3873c4" stroke-width="0.9"/>
<rect x="475.30" y="136.3" width="1.6" height="8.4" fill="#3873c4"/>
<line x1="478.60" y1="151.8" x2="478.60" y2="166.2" stroke="#3873c4" stroke-width="0.9"/>
<rect x="477.80" y="152.0" width="1.6" height="12.6" fill="#3873c4"/>
<line x1="481.10" y1="159.8" x2="481.10" y2="167.7" stroke="#3873c4" stroke-width="0.9"/>
<rect x="480.30" y="165.7" width="1.6" height="1.1" fill="#3873c4"/>
<line x1="483.60" y1="160.7" x2="483.60" y2="168.8" stroke="#d0d0d0" stroke-width="0.9"/>
<rect x="482.80" y="164.0" width="1.6" height="3.3" fill="#d0d0d0"/>
<line x1="486.10" y1="150.9" x2="486.10" y2="162.6" stroke="#d0d0d0" stroke-width="0.9"/>
<rect x="485.30" y="151.1" width="1.6" height="10.0" fill="#d0d0d0"/>
<line x1="488.60" y1="150.0" x2="488.60" y2="182.6" stroke="#3873c4" stroke-width="0.9"/>
<rect x="487.80" y="151.4" width="1.6" height="31.0" fill="#3873c4"/>
<line x1="491.10" y1="181.2" x2="491.10" y2="191.4" stroke="#3873c4" stroke-width="0.9"/>
<rect x="490.30" y="187.6" width="1.6" height="1.0" fill="#3873c4"/>
<line x1="493.60" y1="185.4" x2="493.60" y2="202.9" stroke="#3873c4" stroke-width="0.9"/>
<rect x="492.80" y="186.1" width="1.6" height="12.2" fill="#3873c4"/>
<line x1="496.10" y1="191.8" x2="496.10" y2="205.3" stroke="#3873c4" stroke-width="0.9"/>
<rect x="495.30" y="194.9" width="1.6" height="10.2" fill="#3873c4"/>
<line x1="498.60" y1="201.6" x2="498.60" y2="216.6" stroke="#d0d0d0" stroke-width="0.9"/>
<rect x="497.80" y="202.5" width="1.6" height="6.6" fill="#d0d0d0"/>
<line x1="501.10" y1="191.2" x2="501.10" y2="216.0" stroke="#3873c4" stroke-width="0.9"/>
<rect x="500.30" y="196.5" width="1.6" height="15.5" fill="#3873c4"/>
<line x1="503.60" y1="208.0" x2="503.60" y2="220.4" stroke="#3873c4" stroke-width="0.9"/>
<rect x="502.80" y="210.6" width="1.6" height="4.9" fill="#3873c4"/>
<line x1="506.10" y1="198.0" x2="506.10" y2="216.0" stroke="#d0d0d0" stroke-width="0.9"/>
<rect x="505.30" y="199.6" width="1.6" height="15.5" fill="#d0d0d0"/>
<line x1="508.60" y1="192.9" x2="508.60" y2="207.3" stroke="#d0d0d0" stroke-width="0.9"/>
<rect x="507.80" y="193.8" width="1.6" height="10.4" fill="#d0d0d0"/>
<line x1="511.10" y1="178.1" x2="511.10" y2="190.3" stroke="#d0d0d0" stroke-width="0.9"/>
<rect x="510.30" y="180.3" width="1.6" height="10.0" fill="#d0d0d0"/>
<line x1="513.60" y1="168.8" x2="513.60" y2="176.6" stroke="#d0d0d0" stroke-width="0.9"/>
<rect x="512.80" y="170.8" width="1.6" height="5.8" fill="#d0d0d0"/>
<line x1="516.10" y1="195.2" x2="516.10" y2="212.0" stroke="#3873c4" stroke-width="0.9"/>
<rect x="515.30" y="195.2" width="1.6" height="14.8" fill="#3873c4"/>
<line x1="518.60" y1="204.0" x2="518.60" y2="214.6" stroke="#d0d0d0" stroke-width="0.9"/>
<rect x="517.80" y="207.1" width="1.6" height="1.1" fill="#d0d0d0"/>
<line x1="521.10" y1="204.2" x2="521.10" y2="220.2" stroke="#3873c4" stroke-width="0.9"/>
<rect x="520.30" y="210.2" width="1.6" height="6.9" fill="#3873c4"/>
<line x1="523.60" y1="223.9" x2="523.60" y2="231.0" stroke="#d0d0d0" stroke-width="0.9"/>
<rect x="522.80" y="223.3" width="1.6" height="9.3" fill="#d0d0d0"/>
<line x1="526.10" y1="217.1" x2="526.10" y2="231.0" stroke="#d0d0d0" stroke-width="0.9"/>
<rect x="525.30" y="217.3" width="1.6" height="11.3" fill="#d0d0d0"/>
<line x1="528.60" y1="222.6" x2="528.60" y2="233.4" stroke="#3873c4" stroke-width="0.9"/>
<rect x="527.80" y="222.8" width="1.6" height="4.2" fill="#3873c4"/>
<line x1="531.10" y1="215.7" x2="531.10" y2="241.8" stroke="#3873c4" stroke-width="0.9"/>
<rect x="530.30" y="223.7" width="1.6" height="17.9" fill="#3873c4"/>
<line x1="533.60" y1="241.6" x2="533.60" y2="250.5" stroke="#3873c4" stroke-width="0.9"/>
<rect x="532.80" y="243.4" width="1.6" height="5.3" fill="#3873c4"/>
<line x1="536.10" y1="255.5" x2="536.10" y2="273.0" stroke="#3873c4" stroke-width="0.9"/>
<rect x="535.30" y="255.5" width="1.6" height="7.5" fill="#3873c4"/>
<line x1="538.60" y1="258.2" x2="538.60" y2="273.9" stroke="#3873c4" stroke-width="0.9"/>
<rect x="537.80" y="265.5" width="1.6" height="6.0" fill="#3873c4"/>
<line x1="541.10" y1="257.8" x2="541.10" y2="278.6" stroke="#3873c4" stroke-width="0.9"/>
<rect x="540.30" y="264.4" width="1.6" height="8.8" fill="#3873c4"/>
<line x1="543.60" y1="253.6" x2="543.60" y2="274.8" stroke="#d0d0d0" stroke-width="0.9"/>
<rect x="542.80" y="257.3" width="1.6" height="15.0" fill="#d0d0d0"/>
<line x1="546.10" y1="264.4" x2="546.10" y2="281.4" stroke="#3873c4" stroke-width="0.9"/>
<rect x="545.30" y="264.4" width="1.6" height="10.4" fill="#3873c4"/>
<line x1="548.60" y1="267.9" x2="548.60" y2="287.2" stroke="#3873c4" stroke-width="0.9"/>
<rect x="547.80" y="276.1" width="1.6" height="10.6" fill="#3873c4"/>
<line x1="551.10" y1="265.9" x2="551.10" y2="281.4" stroke="#d0d0d0" stroke-width="0.9"/>
<rect x="550.30" y="266.4" width="1.6" height="15.0" fill="#d0d0d0"/>
<line x1="553.60" y1="241.4" x2="553.60" y2="255.5" stroke="#d0d0d0" stroke-width="0.9"/>
<rect x="552.80" y="241.4" width="1.6" height="14.2" fill="#d0d0d0"/>
<line x1="556.10" y1="238.1" x2="556.10" y2="256.4" stroke="#d0d0d0" stroke-width="0.9"/>
<rect x="555.30" y="243.2" width="1.6" height="6.6" fill="#d0d0d0"/>
<line x1="558.60" y1="239.8" x2="558.60" y2="251.6" stroke="#3873c4" stroke-width="0.9"/>
<rect x="557.80" y="245.6" width="1.6" height="6.0" fill="#3873c4"/>
<line x1="561.10" y1="259.3" x2="561.10" y2="275.7" stroke="#3873c4" stroke-width="0.9"/>
<rect x="560.30" y="260.2" width="1.6" height="14.6" fill="#3873c4"/>
<line x1="563.60" y1="272.1" x2="563.60" y2="286.3" stroke="#3873c4" stroke-width="0.9"/>
<rect x="562.80" y="273.2" width="1.6" height="7.7" fill="#3873c4"/>
<line x1="566.10" y1="274.6" x2="566.10" y2="290.5" stroke="#3873c4" stroke-width="0.9"/>
<rect x="565.30" y="284.7" width="1.6" height="1.3" fill="#3873c4"/>
<line x1="568.60" y1="281.9" x2="568.60" y2="289.6" stroke="#3873c4" stroke-width="0.9"/>
<rect x="567.80" y="285.6" width="1.6" height="3.1" fill="#3873c4"/>
<line x1="571.10" y1="264.8" x2="571.10" y2="307.8" stroke="#d0d0d0" stroke-width="0.9"/>
<rect x="570.30" y="268.4" width="1.6" height="32.7" fill="#d0d0d0"/>
<line x1="573.60" y1="258.9" x2="573.60" y2="287.2" stroke="#3873c4" stroke-width="0.9"/>
<rect x="572.80" y="263.7" width="1.6" height="23.7" fill="#3873c4"/>
<line x1="576.10" y1="264.0" x2="576.10" y2="274.8" stroke="#d0d0d0" stroke-width="0.9"/>
<rect x="575.30" y="266.6" width="1.6" height="8.2" fill="#d0d0d0"/>
<line x1="578.60" y1="247.8" x2="578.60" y2="264.6" stroke="#3873c4" stroke-width="0.9"/>
<rect x="577.80" y="251.3" width="1.6" height="5.8" fill="#3873c4"/>
<line x1="581.10" y1="255.3" x2="581.10" y2="268.8" stroke="#3873c4" stroke-width="0.9"/>
<rect x="580.30" y="260.9" width="1.6" height="1.8" fill="#3873c4"/>
<line x1="583.60" y1="253.3" x2="583.60" y2="271.3" stroke="#3873c4" stroke-width="0.9"/>
<rect x="582.80" y="264.0" width="1.6" height="5.1" fill="#3873c4"/>
<line x1="586.10" y1="248.9" x2="586.10" y2="273.2" stroke="#d0d0d0" stroke-width="0.9"/>
<rect x="585.30" y="250.0" width="1.6" height="21.0" fill="#d0d0d0"/>
<line x1="588.60" y1="239.6" x2="588.60" y2="252.5" stroke="#d0d0d0" stroke-width="0.9"/>
<rect x="587.80" y="240.1" width="1.6" height="7.5" fill="#d0d0d0"/>
<line x1="591.10" y1="225.7" x2="591.10" y2="239.6" stroke="#d0d0d0" stroke-width="0.9"/>
<rect x="590.30" y="226.3" width="1.6" height="13.3" fill="#d0d0d0"/>
<line x1="593.60" y1="220.2" x2="593.60" y2="233.9" stroke="#d0d0d0" stroke-width="0.9"/>
<rect x="592.80" y="232.5" width="1.6" height="1.3" fill="#d0d0d0"/>
<line x1="596.10" y1="226.3" x2="596.10" y2="238.7" stroke="#3873c4" stroke-width="0.9"/>
<rect x="595.30" y="231.9" width="1.6" height="6.0" fill="#3873c4"/>
<line x1="598.60" y1="216.2" x2="598.60" y2="237.6" stroke="#d0d0d0" stroke-width="0.9"/>
<rect x="597.80" y="217.1" width="1.6" height="20.6" fill="#d0d0d0"/>
<line x1="601.10" y1="218.8" x2="601.10" y2="225.5" stroke="#3873c4" stroke-width="0.9"/>
<rect x="600.30" y="221.5" width="1.6" height="2.0" fill="#3873c4"/>
<line x1="603.60" y1="214.8" x2="603.60" y2="229.9" stroke="#3873c4" stroke-width="0.9"/>
<rect x="602.80" y="217.1" width="1.6" height="10.0" fill="#3873c4"/>
<line x1="606.10" y1="218.6" x2="606.10" y2="248.7" stroke="#3873c4" stroke-width="0.9"/>
<rect x="605.30" y="227.7" width="1.6" height="20.6" fill="#3873c4"/>
<line x1="608.60" y1="250.5" x2="608.60" y2="262.0" stroke="#3873c4" stroke-width="0.9"/>
<rect x="607.80" y="254.2" width="1.6" height="2.9" fill="#3873c4"/>
<line x1="611.10" y1="240.3" x2="611.10" y2="256.9" stroke="#d0d0d0" stroke-width="0.9"/>
<rect x="610.30" y="245.8" width="1.6" height="1.0" fill="#d0d0d0"/>
<line x1="613.60" y1="236.5" x2="613.60" y2="247.4" stroke="#d0d0d0" stroke-width="0.9"/>
<rect x="612.80" y="237.9" width="1.6" height="5.8" fill="#d0d0d0"/>
<line x1="616.10" y1="226.1" x2="616.10" y2="242.3" stroke="#d0d0d0" stroke-width="0.9"/>
<rect x="615.30" y="233.2" width="1.6" height="2.4" fill="#d0d0d0"/>
<line x1="618.60" y1="235.2" x2="618.60" y2="250.9" stroke="#3873c4" stroke-width="0.9"/>
<rect x="617.80" y="237.2" width="1.6" height="13.5" fill="#3873c4"/>
<line x1="621.10" y1="204.2" x2="621.10" y2="226.3" stroke="#d0d0d0" stroke-width="0.9"/>
<rect x="620.30" y="204.9" width="1.6" height="21.5" fill="#d0d0d0"/>
<line x1="623.60" y1="194.9" x2="623.60" y2="207.5" stroke="#d0d0d0" stroke-width="0.9"/>
<rect x="622.80" y="196.7" width="1.6" height="6.6" fill="#d0d0d0"/>
<line x1="626.10" y1="193.2" x2="626.10" y2="206.4" stroke="#3873c4" stroke-width="0.9"/>
<rect x="625.30" y="200.0" width="1.6" height="4.6" fill="#3873c4"/>
<line x1="628.60" y1="189.0" x2="628.60" y2="205.3" stroke="#3873c4" stroke-width="0.9"/>
<rect x="627.80" y="193.6" width="1.6" height="3.3" fill="#3873c4"/>
<line x1="631.10" y1="198.9" x2="631.10" y2="205.3" stroke="#3873c4" stroke-width="0.9"/>
<rect x="630.30" y="200.2" width="1.6" height="4.0" fill="#3873c4"/>
<line x1="633.60" y1="205.3" x2="633.60" y2="216.0" stroke="#d0d0d0" stroke-width="0.9"/>
<rect x="632.80" y="206.9" width="1.6" height="6.2" fill="#d0d0d0"/>
<line x1="636.10" y1="199.8" x2="636.10" y2="209.5" stroke="#3873c4" stroke-width="0.9"/>
<rect x="635.30" y="202.7" width="1.6" height="1.0" fill="#3873c4"/>
<line x1="638.60" y1="203.6" x2="638.60" y2="210.0" stroke="#3873c4" stroke-width="0.9"/>
<rect x="637.80" y="204.9" width="1.6" height="1.3" fill="#3873c4"/>
<line x1="641.10" y1="194.3" x2="641.10" y2="206.9" stroke="#d0d0d0" stroke-width="0.9"/>
<rect x="640.30" y="194.5" width="1.6" height="10.4" fill="#d0d0d0"/>
<line x1="643.60" y1="187.6" x2="643.60" y2="195.6" stroke="#d0d0d0" stroke-width="0.9"/>
<rect x="642.80" y="189.2" width="1.6" height="6.0" fill="#d0d0d0"/>
<line x1="646.10" y1="187.4" x2="646.10" y2="190.7" stroke="#d0d0d0" stroke-width="0.9"/>
<rect x="645.30" y="189.4" width="1.6" height="1.0" fill="#d0d0d0"/>
<line x1="648.60" y1="192.5" x2="648.60" y2="204.9" stroke="#3873c4" stroke-width="0.9"/>
<rect x="647.80" y="194.1" width="1.6" height="9.1" fill="#3873c4"/>
<line x1="651.10" y1="200.5" x2="651.10" y2="207.5" stroke="#3873c4" stroke-width="0.9"/>
<rect x="650.30" y="202.9" width="1.6" height="1.5" fill="#3873c4"/>
<line x1="653.60" y1="177.5" x2="653.60" y2="207.8" stroke="#d0d0d0" stroke-width="0.9"/>
<rect x="652.80" y="177.5" width="1.6" height="27.0" fill="#d0d0d0"/>
<line x1="656.10" y1="172.8" x2="656.10" y2="182.3" stroke="#3873c4" stroke-width="0.9"/>
<rect x="655.30" y="175.9" width="1.6" height="2.4" fill="#3873c4"/>
<line x1="658.60" y1="178.3" x2="658.60" y2="189.2" stroke="#d0d0d0" stroke-width="0.9"/>
<rect x="657.80" y="179.2" width="1.6" height="6.9" fill="#d0d0d0"/>
<line x1="661.10" y1="183.4" x2="661.10" y2="198.7" stroke="#3873c4" stroke-width="0.9"/>
<rect x="660.30" y="183.4" width="1.6" height="11.9" fill="#3873c4"/>
<line x1="663.60" y1="194.9" x2="663.60" y2="213.3" stroke="#3873c4" stroke-width="0.9"/>
<rect x="662.80" y="196.0" width="1.6" height="12.2" fill="#3873c4"/>
<line x1="666.10" y1="205.8" x2="666.10" y2="213.7" stroke="#d0d0d0" stroke-width="0.9"/>
<rect x="665.30" y="209.8" width="1.6" height="1.0" fill="#d0d0d0"/>
<line x1="668.60" y1="202.7" x2="668.60" y2="212.2" stroke="#d0d0d0" stroke-width="0.9"/>
<rect x="667.80" y="203.3" width="1.6" height="3.5" fill="#d0d0d0"/>
<line x1="671.10" y1="200.2" x2="671.10" y2="210.0" stroke="#3873c4" stroke-width="0.9"/>
<rect x="670.30" y="205.3" width="1.6" height="4.4" fill="#3873c4"/>
<line x1="673.60" y1="197.2" x2="673.60" y2="208.7" stroke="#d0d0d0" stroke-width="0.9"/>
<rect x="672.80" y="197.2" width="1.6" height="11.3" fill="#d0d0d0"/>
<line x1="676.10" y1="172.8" x2="676.10" y2="196.5" stroke="#3873c4" stroke-width="0.9"/>
<rect x="675.30" y="179.9" width="1.6" height="10.8" fill="#3873c4"/>
<line x1="678.60" y1="183.4" x2="678.60" y2="202.7" stroke="#3873c4" stroke-width="0.9"/>
<rect x="677.80" y="191.6" width="1.6" height="4.4" fill="#3873c4"/>
<line x1="681.10" y1="204.2" x2="681.10" y2="221.9" stroke="#3873c4" stroke-width="0.9"/>
<rect x="680.30" y="204.2" width="1.6" height="13.9" fill="#3873c4"/>
<line x1="683.60" y1="219.3" x2="683.60" y2="233.2" stroke="#3873c4" stroke-width="0.9"/>
<rect x="682.80" y="219.3" width="1.6" height="8.6" fill="#3873c4"/>
<line x1="686.10" y1="227.2" x2="686.10" y2="239.4" stroke="#3873c4" stroke-width="0.9"/>
<rect x="685.30" y="227.7" width="1.6" height="7.7" fill="#3873c4"/>
<line x1="688.60" y1="231.0" x2="688.60" y2="240.3" stroke="#d0d0d0" stroke-width="0.9"/>
<rect x="687.80" y="234.8" width="1.6" height="2.2" fill="#d0d0d0"/>
<line x1="691.10" y1="219.7" x2="691.10" y2="230.6" stroke="#d0d0d0" stroke-width="0.9"/>
<rect x="690.30" y="222.1" width="1.6" height="8.4" fill="#d0d0d0"/>
<line x1="693.60" y1="227.5" x2="693.60" y2="247.1" stroke="#3873c4" stroke-width="0.9"/>
<rect x="692.80" y="227.5" width="1.6" height="7.1" fill="#3873c4"/>
<line x1="696.10" y1="229.2" x2="696.10" y2="239.8" stroke="#d0d0d0" stroke-width="0.9"/>
<rect x="695.30" y="229.4" width="1.6" height="6.4" fill="#d0d0d0"/>
<line x1="698.60" y1="229.2" x2="698.60" y2="236.5" stroke="#3873c4" stroke-width="0.9"/>
<rect x="697.80" y="229.9" width="1.6" height="3.1" fill="#3873c4"/>
<line x1="701.10" y1="228.6" x2="701.10" y2="243.2" stroke="#3873c4" stroke-width="0.9"/>
<rect x="700.30" y="233.0" width="1.6" height="10.2" fill="#3873c4"/>
<line x1="703.60" y1="226.6" x2="703.60" y2="238.3" stroke="#d0d0d0" stroke-width="0.9"/>
<rect x="702.80" y="228.6" width="1.6" height="9.5" fill="#d0d0d0"/>
<line x1="706.10" y1="230.6" x2="706.10" y2="239.2" stroke="#d0d0d0" stroke-width="0.9"/>
<rect x="705.30" y="230.6" width="1.6" height="2.4" fill="#d0d0d0"/>
<line x1="708.60" y1="222.1" x2="708.60" y2="240.5" stroke="#3873c4" stroke-width="0.9"/>
<rect x="707.80" y="227.7" width="1.6" height="6.4" fill="#3873c4"/>
<line x1="711.10" y1="223.3" x2="711.10" y2="236.1" stroke="#d0d0d0" stroke-width="0.9"/>
<rect x="710.30" y="227.7" width="1.6" height="2.9" fill="#d0d0d0"/>
<line x1="713.60" y1="230.6" x2="713.60" y2="239.0" stroke="#3873c4" stroke-width="0.9"/>
<rect x="712.80" y="230.8" width="1.6" height="6.9" fill="#3873c4"/>
<line x1="716.10" y1="216.0" x2="716.10" y2="237.4" stroke="#d0d0d0" stroke-width="0.9"/>
<rect x="715.30" y="218.4" width="1.6" height="15.9" fill="#d0d0d0"/>
<line x1="718.60" y1="206.0" x2="718.60" y2="219.9" stroke="#3873c4" stroke-width="0.9"/>
<rect x="717.80" y="215.1" width="1.6" height="3.8" fill="#3873c4"/>
<line x1="721.10" y1="212.9" x2="721.10" y2="222.4" stroke="#d0d0d0" stroke-width="0.9"/>
<rect x="720.30" y="213.1" width="1.6" height="6.6" fill="#d0d0d0"/>
<line x1="723.60" y1="201.8" x2="723.60" y2="211.8" stroke="#d0d0d0" stroke-width="0.9"/>
<rect x="722.80" y="201.8" width="1.6" height="8.4" fill="#d0d0d0"/>
<line x1="726.10" y1="198.7" x2="726.10" y2="208.0" stroke="#d0d0d0" stroke-width="0.9"/>
<rect x="725.30" y="201.7" width="1.6" height="4.5" fill="#d0d0d0"/>
</g>
<!-- trend lines -->
<line x1="229.5" y1="56.1" x2="446.1" y2="245.4" stroke="#e4e4e4" stroke-width="1.5"/>
<line x1="468.8" y1="123.5" x2="589.4" y2="244" stroke="#e4e4e4" stroke-width="1.5"/>
<line x1="571.5" y1="306" x2="671.6" y2="184.3" stroke="#c8c8c8" stroke-width="0.9"/>
<!-- green arrow -->
<g stroke="#92cc4c" stroke-width="1.9" fill="none" stroke-linecap="round" stroke-linejoin="round">
<line x1="776" y1="184.9" x2="734" y2="189.4"/>
<polyline points="738.8,186.2 733.6,189.5 739.6,192.3"/>
</g>
<!-- axes -->
<rect x="813" y="0" width="1.6" height="324" fill="#76828a"/>
<rect x="0" y="324.1" width="846" height="1.6" fill="#6e6e6e"/>
<rect x="813" y="325.5" width="1.5" height="68.5" fill="#8a8a8a"/>
<rect x="0" y="392.8" width="813" height="1.3" fill="#727272"/>
<rect x="23.0" y="392.6" width="1.2" height="1.7" fill="#a8a8a8"/><rect x="78.0" y="392.6" width="1.2" height="1.7" fill="#a8a8a8"/><rect x="128.0" y="392.6" width="1.2" height="1.7" fill="#a8a8a8"/><rect x="175.5" y="392.6" width="1.2" height="1.7" fill="#a8a8a8"/><rect x="233.0" y="392.6" width="1.2" height="1.7" fill="#a8a8a8"/><rect x="283.0" y="392.6" width="1.2" height="1.7" fill="#a8a8a8"/><rect x="335.5" y="392.6" width="1.2" height="1.7" fill="#a8a8a8"/><rect x="388.0" y="392.6" width="1.2" height="1.7" fill="#a8a8a8"/><rect x="438.0" y="392.6" width="1.2" height="1.7" fill="#a8a8a8"/><rect x="495.5" y="392.6" width="1.2" height="1.7" fill="#a8a8a8"/><rect x="548.0" y="392.6" width="1.2" height="1.7" fill="#a8a8a8"/><rect x="600.5" y="392.6" width="1.2" height="1.7" fill="#a8a8a8"/><rect x="653.0" y="392.6" width="1.2" height="1.7" fill="#a8a8a8"/><rect x="706.4" y="392.6" width="1.2" height="1.7" fill="#a8a8a8"/><rect x="759.0" y="392.6" width="1.2" height="1.7" fill="#a8a8a8"/><rect x="808.0" y="392.6" width="1.2" height="1.7" fill="#a8a8a8"/>
<!-- price labels -->
<g font-size="6.3" style="fill:#c8cccf">
<text x="818.9" y="20.7" textLength="12.5" lengthAdjust="spacingAndGlyphs">4800</text>
<text x="818.9" y="64.9" textLength="12.5" lengthAdjust="spacingAndGlyphs">4600</text>
<text x="818.9" y="109.2" textLength="12.5" lengthAdjust="spacingAndGlyphs">4400</text>
<text x="818.9" y="153.4" textLength="12.5" lengthAdjust="spacingAndGlyphs">4200</text>
<text x="818.9" y="197.7" textLength="12.5" lengthAdjust="spacingAndGlyphs">4000</text>
<text x="818.9" y="241.9" textLength="12.5" lengthAdjust="spacingAndGlyphs">3800</text>
<text x="818.9" y="286.1" textLength="12.5" lengthAdjust="spacingAndGlyphs">3600</text>
<text x="818.6" y="331.6" textLength="9.1" lengthAdjust="spacingAndGlyphs">100</text>
<text x="818.8" y="385.1" textLength="12.1" lengthAdjust="spacingAndGlyphs">-100</text>
</g>
<g fill="#f0f0f0">
<path d="M813.8 16.5L817.2 18.2L813.8 19.9Z"/><path d="M813.8 60.7L817.2 62.4L813.8 64.1Z"/><path d="M813.8 105.0L817.2 106.7L813.8 108.4Z"/><path d="M813.8 149.2L817.2 150.9L813.8 152.6Z"/><path d="M813.8 193.5L817.2 195.2L813.8 196.9Z"/><path d="M813.8 237.7L817.2 239.4L813.8 241.1Z"/><path d="M813.8 281.9L817.2 283.6L813.8 285.3Z"/><path d="M813.8 327.6L817.2 329.3L813.8 331.0Z"/><path d="M813.8 381.0L817.2 382.7L813.8 384.4Z"/><rect x="814.5" y="39.9" width="1.5" height="0.8"/><rect x="814.5" y="84.2" width="1.5" height="0.8"/><rect x="814.5" y="128.4" width="1.5" height="0.8"/><rect x="814.5" y="172.6" width="1.5" height="0.8"/><rect x="814.5" y="216.9" width="1.5" height="0.8"/><rect x="814.5" y="261.1" width="1.5" height="0.8"/><rect x="814.5" y="305.4" width="1.5" height="0.8"/><rect x="814.5" y="342.3" width="1.5" height="0.8"/><rect x="814.5" y="368.9" width="1.5" height="0.8"/>
</g>
<!-- last price label -->
<path d="M814.5 201.7L818 198.3H846V205.2H818Z" fill="#f4f4f4"/>
<text x="818.5" y="203.9" font-size="6" textLength="25.5" lengthAdjust="spacingAndGlyphs" style="fill:#111">3970.5000</text>
<!-- macd labels -->
<path d="M815.8 351L818.5 348.5H846V352.1H818.5Z" fill="#3ec43a"/>
<text x="819" y="351.6" font-size="4.2" style="fill:#1f6a1a">16.4590</text>
<path d="M815 355.2L818.5 352.1H846V358H818.5Z" fill="#f4f4f4"/>
<text x="819" y="357.6" font-size="5.5" style="fill:#222">3.7036</text>
<path d="M815.8 360L818.5 358H846V363.2H818.5Z" fill="#c42828"/>
<text x="819" y="362.2" font-size="4.2" style="fill:#f0a0a0">-12.7554</text>
<polygon points="1.10,340.43 3.60,340.93 6.10,341.16 8.60,341.63 11.10,342.50 13.60,343.17 16.10,343.61 18.60,346.35 21.10,347.32 23.60,350.07 26.10,353.43 28.60,354.73 31.10,356.60 33.60,356.90 36.10,355.13 38.60,353.43 41.10,352.85 41.92,352.40 41.92,352.40 41.10,352.46 38.60,352.37 36.10,352.10 33.60,351.34 31.10,349.96 28.60,348.29 26.10,346.69 23.60,345.00 21.10,343.73 18.60,342.84 16.10,341.96 13.60,341.55 11.10,341.14 8.60,340.80 6.10,340.59 3.60,340.45 1.10,340.33" fill="#922a2e"/>
<polygon points="41.92,352.40 43.60,351.48 46.10,351.39 48.59,352.09 48.59,352.09 46.10,352.09 43.60,352.27 41.92,352.40" fill="#b4acac"/>
<polygon points="48.59,352.09 48.60,352.09 48.61,352.09 48.61,352.09 48.60,352.09 48.59,352.09" fill="#922a2e"/>
<polygon points="48.61,352.09 51.10,351.09 53.60,351.24 54.83,351.83 54.83,351.83 53.60,351.76 51.10,351.89 48.61,352.09" fill="#b4acac"/>
<polygon points="54.83,351.83 56.10,352.43 58.60,354.51 61.10,354.44 63.60,353.37 64.50,352.86 64.50,352.86 63.60,352.93 61.10,352.82 58.60,352.42 56.10,351.90 54.83,351.83" fill="#922a2e"/>
<polygon points="64.50,352.86 66.10,351.95 68.60,349.50 71.10,347.76 73.60,346.34 76.10,345.65 78.60,345.49 81.10,344.83 83.60,344.52 86.10,346.39 87.16,347.09 87.16,347.09 86.10,347.00 83.60,347.15 81.10,347.81 78.60,348.56 76.10,349.33 73.60,350.25 71.10,351.22 68.60,352.09 66.10,352.74 64.50,352.86" fill="#b4acac"/>
<polygon points="87.16,347.09 88.60,348.05 91.10,349.84 93.60,351.47 96.10,351.88 98.60,351.97 101.10,353.51 103.60,354.66 106.10,357.41 108.60,360.49 111.10,363.91 113.60,368.32 116.10,371.37 118.60,374.72 121.10,377.27 123.60,379.52 126.10,378.78 128.60,376.15 131.10,373.23 131.89,372.14 131.89,372.14 131.10,372.30 128.60,372.07 126.10,371.05 123.60,369.11 121.10,366.51 118.60,363.82 116.10,361.10 113.60,358.53 111.10,356.08 108.60,354.13 106.10,352.54 103.60,351.32 101.10,350.48 98.60,349.72 96.10,349.16 93.60,348.48 91.10,347.74 88.60,347.21 87.16,347.09" fill="#922a2e"/>
<polygon points="131.89,372.14 133.60,369.82 136.10,369.38 138.60,368.37 141.10,367.80 143.60,366.43 146.10,363.83 148.60,363.48 151.10,364.92 153.60,366.34 156.10,365.82 158.60,365.23 160.52,366.35 160.52,366.35 158.60,366.29 156.10,366.56 153.60,366.74 151.10,366.84 148.60,367.33 146.10,368.29 143.60,369.40 141.10,370.14 138.60,370.73 136.10,371.32 133.60,371.80 131.89,372.14" fill="#b4acac"/>
<polygon points="160.52,366.35 161.10,366.69 163.60,368.38 166.10,370.49 168.60,373.66 171.10,374.63 173.60,373.11 176.10,371.95 178.60,372.32 180.52,371.07 180.52,371.07 178.60,371.13 176.10,370.84 173.60,370.56 171.10,369.92 168.60,368.75 166.10,367.52 163.60,366.77 161.10,366.37 160.52,366.35" fill="#922a2e"/>
<polygon points="180.52,371.07 181.10,370.69 183.60,369.76 186.10,369.60 187.21,370.68 187.21,370.68 186.10,370.55 183.60,370.79 181.10,371.04 180.52,371.07" fill="#b4acac"/>
<polygon points="187.21,370.68 188.60,372.04 191.10,374.41 193.60,373.78 196.10,373.47 198.60,374.22 201.10,375.25 203.60,373.95 204.15,373.23 204.15,373.23 203.60,373.35 201.10,373.20 198.60,372.68 196.10,372.30 193.60,372.00 191.10,371.56 188.60,370.85 187.21,370.68" fill="#922a2e"/>
<polygon points="204.15,373.23 206.10,370.68 208.60,366.81 211.10,362.56 213.60,359.20 216.10,355.44 218.60,353.70 221.10,351.00 223.60,348.45 226.10,345.85 228.60,342.72 231.10,341.06 233.60,341.46 236.10,341.60 238.60,341.09 241.10,342.09 243.60,343.97 245.89,345.07 245.89,345.07 243.60,345.05 241.10,345.32 238.60,346.13 236.10,347.39 233.60,348.83 231.10,350.67 228.60,353.08 226.10,355.67 223.60,358.12 221.10,360.54 218.60,362.93 216.10,365.23 213.60,367.68 211.10,369.80 208.60,371.61 206.10,372.81 204.15,373.23" fill="#b4acac"/>
<polygon points="245.89,345.07 246.10,345.17 248.60,346.50 251.10,349.24 253.60,351.81 256.10,352.82 258.60,354.80 261.10,356.37 263.60,356.10 266.10,355.96 268.60,357.22 271.10,360.80 273.60,363.04 276.10,367.29 278.60,370.32 281.10,370.30 283.60,373.44 286.10,375.21 288.60,375.95 291.10,373.65 293.60,374.90 296.10,376.17 298.60,379.75 301.10,382.07 303.60,384.98 306.10,387.05 308.60,386.32 311.10,385.75 313.60,383.23 316.10,384.46 318.60,385.59 321.10,386.14 323.60,384.67 326.10,383.90 326.13,383.88 326.13,383.88 326.10,383.88 323.60,383.88 321.10,383.68 318.60,383.07 316.10,382.44 313.60,381.93 311.10,381.60 308.60,380.57 306.10,379.13 303.60,377.15 301.10,375.19 298.60,373.47 296.10,371.90 293.60,370.83 291.10,369.82 288.60,368.86 286.10,367.08 283.60,365.05 281.10,362.96 278.60,361.12 276.10,358.82 273.60,356.70 271.10,355.12 268.60,353.69 266.10,352.81 263.60,352.03 261.10,351.01 258.60,349.66 256.10,348.38 253.60,347.27 251.10,346.13 248.60,345.36 246.10,345.07 245.89,345.07" fill="#922a2e"/>
<polygon points="326.13,383.88 328.60,382.17 331.10,378.83 333.60,373.82 336.10,370.25 338.60,367.95 341.10,364.39 343.60,362.96 346.10,361.50 348.60,359.44 351.10,358.75 353.60,360.26 356.10,363.89 356.47,364.78 356.47,364.78 356.10,364.62 353.60,364.81 351.10,365.94 348.60,367.74 346.10,369.82 343.60,371.90 341.10,374.13 338.60,376.57 336.10,378.72 333.60,380.84 331.10,382.60 328.60,383.54 326.13,383.88" fill="#b4acac"/>
<polygon points="356.47,364.78 358.60,369.86 361.10,374.70 363.60,377.11 366.10,381.37 368.60,384.25 371.10,384.27 373.60,384.07 376.10,382.83 378.60,379.07 378.80,378.84 378.80,378.84 378.60,378.88 376.10,378.84 373.60,377.84 371.10,376.28 368.60,374.29 366.10,371.80 363.60,369.40 361.10,367.48 358.60,365.67 356.47,364.78" fill="#922a2e"/>
<polygon points="378.80,378.84 381.10,376.11 383.60,375.24 386.10,374.40 388.60,374.25 391.10,373.08 393.60,371.84 396.10,370.39 398.60,367.86 401.10,365.82 403.60,365.05 406.10,365.11 408.60,365.42 411.10,365.80 413.60,364.44 416.10,363.96 418.60,361.23 421.10,358.55 423.60,355.58 426.10,354.05 428.60,352.77 431.10,352.78 433.60,350.63 436.10,347.97 438.60,344.76 441.10,342.61 443.60,341.67 446.10,339.73 448.60,338.47 451.10,337.82 453.60,337.63 456.10,338.08 458.60,336.75 461.10,335.98 463.60,334.07 466.10,332.46 468.60,331.29 471.10,331.30 473.60,331.40 476.10,332.95 477.11,334.32 477.11,334.32 476.10,334.14 473.60,334.44 471.10,335.20 468.60,336.17 466.10,337.39 463.60,338.62 461.10,339.76 458.60,340.71 456.10,341.70 453.60,342.60 451.10,343.84 448.60,345.35 446.10,347.07 443.60,348.90 441.10,350.71 438.60,352.73 436.10,354.73 433.60,356.42 431.10,357.86 428.60,359.13 426.10,360.73 423.60,362.39 421.10,364.10 418.60,365.48 416.10,366.55 413.60,367.20 411.10,367.88 408.60,368.40 406.10,369.15 403.60,370.16 401.10,371.44 398.60,372.84 396.10,374.09 393.60,375.02 391.10,375.81 388.60,376.49 386.10,377.05 383.60,377.71 381.10,378.33 378.80,378.84" fill="#b4acac"/>
<polygon points="477.11,334.32 478.60,336.34 481.10,339.44 483.60,341.77 486.10,342.53 488.60,346.28 491.10,349.91 493.60,353.77 496.10,357.49 498.60,360.13 501.10,363.06 503.60,365.62 506.10,365.99 508.60,365.60 511.10,363.90 513.60,361.55 516.10,363.42 518.60,364.52 521.10,366.25 523.60,368.08 526.10,368.80 528.60,370.16 531.10,372.47 533.60,374.77 536.10,377.74 538.60,380.64 541.10,382.79 543.60,382.64 546.10,383.90 548.60,385.72 551.10,384.85 553.60,381.43 554.44,380.49 554.44,380.49 553.60,380.62 551.10,380.42 548.60,379.32 546.10,377.71 543.60,376.17 541.10,374.55 538.60,372.49 536.10,370.45 533.60,368.63 531.10,367.09 528.60,365.75 526.10,364.65 523.60,363.61 521.10,362.49 518.60,361.55 516.10,360.81 513.60,360.16 511.10,359.81 508.60,358.79 506.10,357.08 503.60,354.86 501.10,352.17 498.60,349.44 496.10,346.77 493.60,344.09 491.10,341.67 488.60,339.61 486.10,337.94 483.60,336.80 481.10,335.55 478.60,334.58 477.11,334.32" fill="#922a2e"/>
<polygon points="554.44,380.49 556.10,378.63 558.60,376.99 561.10,377.70 563.60,378.61 565.00,379.14 565.00,379.14 563.60,379.09 561.10,379.20 558.60,379.58 556.10,380.23 554.44,380.49" fill="#b4acac"/>
<polygon points="565.00,379.14 566.10,379.55 568.60,380.28 570.06,379.31 570.06,379.31 568.60,379.40 566.10,379.18 565.00,379.14" fill="#922a2e"/>
<polygon points="570.06,379.31 571.10,378.61 573.60,378.88 576.10,376.83 578.60,374.06 581.10,372.23 583.60,371.22 586.10,368.43 588.60,365.14 591.10,361.14 593.60,358.54 596.10,356.99 598.60,353.76 601.10,351.87 603.60,350.78 606.10,352.03 608.60,353.90 611.10,354.31 613.60,353.88 616.10,353.12 618.60,354.25 621.10,350.74 623.60,347.26 626.10,345.40 628.60,343.32 631.10,342.53 633.60,342.33 636.10,341.94 638.60,342.12 641.10,341.28 643.60,340.29 646.10,339.71 648.60,340.76 651.10,341.89 653.60,340.33 656.10,339.37 658.60,338.90 661.10,340.28 661.70,340.88 661.70,340.88 661.10,340.79 658.60,340.91 656.10,341.42 653.60,341.93 651.10,342.33 648.60,342.44 646.10,342.85 643.60,343.64 641.10,344.48 638.60,345.28 636.10,346.07 633.60,347.10 631.10,348.29 628.60,349.73 626.10,351.34 623.60,352.82 621.10,354.21 618.60,355.08 616.10,355.29 613.60,355.83 611.10,356.32 608.60,356.82 606.10,357.56 603.60,358.94 601.10,360.98 598.60,363.25 596.10,365.63 593.60,367.79 591.10,370.10 588.60,372.34 586.10,374.15 583.60,375.58 581.10,376.66 578.60,377.77 576.10,378.70 573.60,379.17 571.10,379.24 570.06,379.31" fill="#b4acac"/>
<polygon points="661.70,340.88 663.60,342.77 666.10,345.03 668.60,346.30 671.10,348.03 673.60,348.26 676.10,347.91 678.60,348.24 681.10,350.71 683.60,353.65 686.10,356.70 688.60,359.02 691.10,359.59 693.60,361.19 696.10,361.89 698.60,362.72 701.10,364.26 703.60,363.98 706.10,363.85 708.60,364.01 711.10,363.42 713.60,363.83 716.10,362.22 716.14,362.19 716.14,362.19 716.10,362.20 713.60,362.19 711.10,361.78 708.60,361.37 706.10,360.71 703.60,359.93 701.10,358.92 698.60,357.58 696.10,356.30 693.60,354.90 691.10,353.32 688.60,351.76 686.10,349.94 683.60,348.25 681.10,346.90 678.60,345.95 676.10,345.38 673.60,344.74 671.10,343.86 668.60,342.82 666.10,341.95 663.60,341.18 661.70,340.88" fill="#922a2e"/>
<polygon points="716.14,362.19 718.60,360.92 721.10,359.29 723.60,356.90 726.10,355.00 726.10,359.41 723.60,360.51 721.10,361.41 718.60,361.94 716.14,362.19" fill="#b4acac"/>
<line x1="1.10" y1="356.0" x2="1.10" y2="356.1" stroke="#4cc83a" stroke-width="1.5" stroke-opacity="0.8"/>
<line x1="3.60" y1="356.0" x2="3.60" y2="356.5" stroke="#4cc83a" stroke-width="1.5" stroke-opacity="0.8"/>
<line x1="6.10" y1="356.0" x2="6.10" y2="356.6" stroke="#4cc83a" stroke-width="1.5" stroke-opacity="0.8"/>
<line x1="8.60" y1="356.0" x2="8.60" y2="356.8" stroke="#4cc83a" stroke-width="1.5" stroke-opacity="0.8"/>
<line x1="11.10" y1="356.0" x2="11.10" y2="357.4" stroke="#4cc83a" stroke-width="1.5" stroke-opacity="0.8"/>
<line x1="13.60" y1="356.0" x2="13.60" y2="357.6" stroke="#4cc83a" stroke-width="1.5" stroke-opacity="0.8"/>
<line x1="16.10" y1="356.0" x2="16.10" y2="357.6" stroke="#4cc83a" stroke-width="1.5" stroke-opacity="0.8"/>
<line x1="18.60" y1="356.0" x2="18.60" y2="359.5" stroke="#4cc83a" stroke-width="1.5" stroke-opacity="0.8"/>
<line x1="21.10" y1="356.0" x2="21.10" y2="359.6" stroke="#4cc83a" stroke-width="1.5" stroke-opacity="0.8"/>
<line x1="23.60" y1="356.0" x2="23.60" y2="361.1" stroke="#4cc83a" stroke-width="1.5" stroke-opacity="0.8"/>
<line x1="26.10" y1="356.0" x2="26.10" y2="362.7" stroke="#4cc83a" stroke-width="1.5" stroke-opacity="0.8"/>
<line x1="28.60" y1="356.0" x2="28.60" y2="362.4" stroke="#4cc83a" stroke-width="1.5" stroke-opacity="0.8"/>
<line x1="31.10" y1="356.0" x2="31.10" y2="362.6" stroke="#4cc83a" stroke-width="1.5" stroke-opacity="0.8"/>
<line x1="33.60" y1="356.0" x2="33.60" y2="361.6" stroke="#4cc83a" stroke-width="1.5" stroke-opacity="0.8"/>
<line x1="36.10" y1="356.0" x2="36.10" y2="359.0" stroke="#4cc83a" stroke-width="1.5" stroke-opacity="0.8"/>
<line x1="38.60" y1="356.0" x2="38.60" y2="357.1" stroke="#4cc83a" stroke-width="1.5" stroke-opacity="0.8"/>
<line x1="41.10" y1="356.0" x2="41.10" y2="356.4" stroke="#4cc83a" stroke-width="1.5" stroke-opacity="0.8"/>
<line x1="43.60" y1="356.0" x2="43.60" y2="355.2" stroke="#4cc83a" stroke-width="1.5" stroke-opacity="0.8"/>
<line x1="46.10" y1="356.0" x2="46.10" y2="355.3" stroke="#4cc83a" stroke-width="1.5" stroke-opacity="0.8"/>
<line x1="48.60" y1="356.0" x2="48.60" y2="356.0" stroke="#4cc83a" stroke-width="1.5" stroke-opacity="0.8"/>
<line x1="51.10" y1="356.0" x2="51.10" y2="355.2" stroke="#4cc83a" stroke-width="1.5" stroke-opacity="0.8"/>
<line x1="53.60" y1="356.0" x2="53.60" y2="355.5" stroke="#4cc83a" stroke-width="1.5" stroke-opacity="0.8"/>
<line x1="56.10" y1="356.0" x2="56.10" y2="356.5" stroke="#4cc83a" stroke-width="1.5" stroke-opacity="0.8"/>
<line x1="58.60" y1="356.0" x2="58.60" y2="358.1" stroke="#4cc83a" stroke-width="1.5" stroke-opacity="0.8"/>
<line x1="61.10" y1="356.0" x2="61.10" y2="357.6" stroke="#4cc83a" stroke-width="1.5" stroke-opacity="0.8"/>
<line x1="63.60" y1="356.0" x2="63.60" y2="356.4" stroke="#4cc83a" stroke-width="1.5" stroke-opacity="0.8"/>
<line x1="66.10" y1="356.0" x2="66.10" y2="355.2" stroke="#4cc83a" stroke-width="1.5" stroke-opacity="0.8"/>
<line x1="68.60" y1="356.0" x2="68.60" y2="353.4" stroke="#4cc83a" stroke-width="1.5" stroke-opacity="0.8"/>
<line x1="71.10" y1="356.0" x2="71.10" y2="352.5" stroke="#4cc83a" stroke-width="1.5" stroke-opacity="0.8"/>
<line x1="73.60" y1="356.0" x2="73.60" y2="352.1" stroke="#4cc83a" stroke-width="1.5" stroke-opacity="0.8"/>
<line x1="76.10" y1="356.0" x2="76.10" y2="352.3" stroke="#4cc83a" stroke-width="1.5" stroke-opacity="0.8"/>
<line x1="78.60" y1="356.0" x2="78.60" y2="352.9" stroke="#4cc83a" stroke-width="1.5" stroke-opacity="0.8"/>
<line x1="81.10" y1="356.0" x2="81.10" y2="353.0" stroke="#4cc83a" stroke-width="1.5" stroke-opacity="0.8"/>
<line x1="83.60" y1="356.0" x2="83.60" y2="353.4" stroke="#4cc83a" stroke-width="1.5" stroke-opacity="0.8"/>
<line x1="86.10" y1="356.0" x2="86.10" y2="355.4" stroke="#4cc83a" stroke-width="1.5" stroke-opacity="0.8"/>
<line x1="88.60" y1="356.0" x2="88.60" y2="356.8" stroke="#4cc83a" stroke-width="1.5" stroke-opacity="0.8"/>
<line x1="91.10" y1="356.0" x2="91.10" y2="358.1" stroke="#4cc83a" stroke-width="1.5" stroke-opacity="0.8"/>
<line x1="93.60" y1="356.0" x2="93.60" y2="359.0" stroke="#4cc83a" stroke-width="1.5" stroke-opacity="0.8"/>
<line x1="96.10" y1="356.0" x2="96.10" y2="358.7" stroke="#4cc83a" stroke-width="1.5" stroke-opacity="0.8"/>
<line x1="98.60" y1="356.0" x2="98.60" y2="358.2" stroke="#4cc83a" stroke-width="1.5" stroke-opacity="0.8"/>
<line x1="101.10" y1="356.0" x2="101.10" y2="359.0" stroke="#4cc83a" stroke-width="1.5" stroke-opacity="0.8"/>
<line x1="103.60" y1="356.0" x2="103.60" y2="359.3" stroke="#4cc83a" stroke-width="1.5" stroke-opacity="0.8"/>
<line x1="106.10" y1="356.0" x2="106.10" y2="360.9" stroke="#4cc83a" stroke-width="1.5" stroke-opacity="0.8"/>
<line x1="108.60" y1="356.0" x2="108.60" y2="362.4" stroke="#4cc83a" stroke-width="1.5" stroke-opacity="0.8"/>
<line x1="111.10" y1="356.0" x2="111.10" y2="363.8" stroke="#4cc83a" stroke-width="1.5" stroke-opacity="0.8"/>
<line x1="113.60" y1="356.0" x2="113.60" y2="365.8" stroke="#4cc83a" stroke-width="1.5" stroke-opacity="0.8"/>
<line x1="116.10" y1="356.0" x2="116.10" y2="366.3" stroke="#4cc83a" stroke-width="1.5" stroke-opacity="0.8"/>
<line x1="118.60" y1="356.0" x2="118.60" y2="366.9" stroke="#4cc83a" stroke-width="1.5" stroke-opacity="0.8"/>
<line x1="121.10" y1="356.0" x2="121.10" y2="366.8" stroke="#4cc83a" stroke-width="1.5" stroke-opacity="0.8"/>
<line x1="123.60" y1="356.0" x2="123.60" y2="366.4" stroke="#4cc83a" stroke-width="1.5" stroke-opacity="0.8"/>
<line x1="126.10" y1="356.0" x2="126.10" y2="363.7" stroke="#4cc83a" stroke-width="1.5" stroke-opacity="0.8"/>
<line x1="128.60" y1="356.0" x2="128.60" y2="360.1" stroke="#4cc83a" stroke-width="1.5" stroke-opacity="0.8"/>
<line x1="131.10" y1="356.0" x2="131.10" y2="356.9" stroke="#4cc83a" stroke-width="1.5" stroke-opacity="0.8"/>
<line x1="133.60" y1="356.0" x2="133.60" y2="354.0" stroke="#4cc83a" stroke-width="1.5" stroke-opacity="0.8"/>
<line x1="136.10" y1="356.0" x2="136.10" y2="354.1" stroke="#4cc83a" stroke-width="1.5" stroke-opacity="0.8"/>
<line x1="138.60" y1="356.0" x2="138.60" y2="353.6" stroke="#4cc83a" stroke-width="1.5" stroke-opacity="0.8"/>
<line x1="141.10" y1="356.0" x2="141.10" y2="353.7" stroke="#4cc83a" stroke-width="1.5" stroke-opacity="0.8"/>
<line x1="143.60" y1="356.0" x2="143.60" y2="353.0" stroke="#4cc83a" stroke-width="1.5" stroke-opacity="0.8"/>
<line x1="146.10" y1="356.0" x2="146.10" y2="351.5" stroke="#4cc83a" stroke-width="1.5" stroke-opacity="0.8"/>
<line x1="148.60" y1="356.0" x2="148.60" y2="352.2" stroke="#4cc83a" stroke-width="1.5" stroke-opacity="0.8"/>
<line x1="151.10" y1="356.0" x2="151.10" y2="354.1" stroke="#4cc83a" stroke-width="1.5" stroke-opacity="0.8"/>
<line x1="153.60" y1="356.0" x2="153.60" y2="355.6" stroke="#4cc83a" stroke-width="1.5" stroke-opacity="0.8"/>
<line x1="156.10" y1="356.0" x2="156.10" y2="355.3" stroke="#4cc83a" stroke-width="1.5" stroke-opacity="0.8"/>
<line x1="158.60" y1="356.0" x2="158.60" y2="354.9" stroke="#4cc83a" stroke-width="1.5" stroke-opacity="0.8"/>
<line x1="161.10" y1="356.0" x2="161.10" y2="356.3" stroke="#4cc83a" stroke-width="1.5" stroke-opacity="0.8"/>
<line x1="163.60" y1="356.0" x2="163.60" y2="357.6" stroke="#4cc83a" stroke-width="1.5" stroke-opacity="0.8"/>
<line x1="166.10" y1="356.0" x2="166.10" y2="359.0" stroke="#4cc83a" stroke-width="1.5" stroke-opacity="0.8"/>
<line x1="168.60" y1="356.0" x2="168.60" y2="360.9" stroke="#4cc83a" stroke-width="1.5" stroke-opacity="0.8"/>
<line x1="171.10" y1="356.0" x2="171.10" y2="360.7" stroke="#4cc83a" stroke-width="1.5" stroke-opacity="0.8"/>
<line x1="173.60" y1="356.0" x2="173.60" y2="358.5" stroke="#4cc83a" stroke-width="1.5" stroke-opacity="0.8"/>
<line x1="176.10" y1="356.0" x2="176.10" y2="357.1" stroke="#4cc83a" stroke-width="1.5" stroke-opacity="0.8"/>
<line x1="178.60" y1="356.0" x2="178.60" y2="357.2" stroke="#4cc83a" stroke-width="1.5" stroke-opacity="0.8"/>
<line x1="181.10" y1="356.0" x2="181.10" y2="355.6" stroke="#4cc83a" stroke-width="1.5" stroke-opacity="0.8"/>
<line x1="183.60" y1="356.0" x2="183.60" y2="355.0" stroke="#4cc83a" stroke-width="1.5" stroke-opacity="0.8"/>
<line x1="186.10" y1="356.0" x2="186.10" y2="355.0" stroke="#4cc83a" stroke-width="1.5" stroke-opacity="0.8"/>
<line x1="188.60" y1="356.0" x2="188.60" y2="357.2" stroke="#4cc83a" stroke-width="1.5" stroke-opacity="0.8"/>
<line x1="191.10" y1="356.0" x2="191.10" y2="358.9" stroke="#4cc83a" stroke-width="1.5" stroke-opacity="0.8"/>
<line x1="193.60" y1="356.0" x2="193.60" y2="357.8" stroke="#4cc83a" stroke-width="1.5" stroke-opacity="0.8"/>
<line x1="196.10" y1="356.0" x2="196.10" y2="357.2" stroke="#4cc83a" stroke-width="1.5" stroke-opacity="0.8"/>
<line x1="198.60" y1="356.0" x2="198.60" y2="357.5" stroke="#4cc83a" stroke-width="1.5" stroke-opacity="0.8"/>
<line x1="201.10" y1="356.0" x2="201.10" y2="358.1" stroke="#4cc83a" stroke-width="1.5" stroke-opacity="0.8"/>
<line x1="203.60" y1="356.0" x2="203.60" y2="356.6" stroke="#4cc83a" stroke-width="1.5" stroke-opacity="0.8"/>
<line x1="206.10" y1="356.0" x2="206.10" y2="353.9" stroke="#4cc83a" stroke-width="1.5" stroke-opacity="0.8"/>
<line x1="208.60" y1="356.0" x2="208.60" y2="351.2" stroke="#4cc83a" stroke-width="1.5" stroke-opacity="0.8"/>
<line x1="211.10" y1="356.0" x2="211.10" y2="348.8" stroke="#4cc83a" stroke-width="1.5" stroke-opacity="0.8"/>
<line x1="213.60" y1="356.0" x2="213.60" y2="347.5" stroke="#4cc83a" stroke-width="1.5" stroke-opacity="0.8"/>
<line x1="216.10" y1="356.0" x2="216.10" y2="346.2" stroke="#4cc83a" stroke-width="1.5" stroke-opacity="0.8"/>
<line x1="218.60" y1="356.0" x2="218.60" y2="346.8" stroke="#4cc83a" stroke-width="1.5" stroke-opacity="0.8"/>
<line x1="221.10" y1="356.0" x2="221.10" y2="346.5" stroke="#4cc83a" stroke-width="1.5" stroke-opacity="0.8"/>
<line x1="223.60" y1="356.0" x2="223.60" y2="346.3" stroke="#4cc83a" stroke-width="1.5" stroke-opacity="0.8"/>
<line x1="226.10" y1="356.0" x2="226.10" y2="346.2" stroke="#4cc83a" stroke-width="1.5" stroke-opacity="0.8"/>
<line x1="228.60" y1="356.0" x2="228.60" y2="345.6" stroke="#4cc83a" stroke-width="1.5" stroke-opacity="0.8"/>
<line x1="231.10" y1="356.0" x2="231.10" y2="346.4" stroke="#4cc83a" stroke-width="1.5" stroke-opacity="0.8"/>
<line x1="233.60" y1="356.0" x2="233.60" y2="348.6" stroke="#4cc83a" stroke-width="1.5" stroke-opacity="0.8"/>
<line x1="236.10" y1="356.0" x2="236.10" y2="350.2" stroke="#4cc83a" stroke-width="1.5" stroke-opacity="0.8"/>
<line x1="238.60" y1="356.0" x2="238.60" y2="351.0" stroke="#4cc83a" stroke-width="1.5" stroke-opacity="0.8"/>
<line x1="241.10" y1="356.0" x2="241.10" y2="352.8" stroke="#4cc83a" stroke-width="1.5" stroke-opacity="0.8"/>
<line x1="243.60" y1="356.0" x2="243.60" y2="354.9" stroke="#4cc83a" stroke-width="1.5" stroke-opacity="0.8"/>
<line x1="246.10" y1="356.0" x2="246.10" y2="356.1" stroke="#4cc83a" stroke-width="1.5" stroke-opacity="0.8"/>
<line x1="248.60" y1="356.0" x2="248.60" y2="357.1" stroke="#4cc83a" stroke-width="1.5" stroke-opacity="0.8"/>
<line x1="251.10" y1="356.0" x2="251.10" y2="359.1" stroke="#4cc83a" stroke-width="1.5" stroke-opacity="0.8"/>
<line x1="253.60" y1="356.0" x2="253.60" y2="360.5" stroke="#4cc83a" stroke-width="1.5" stroke-opacity="0.8"/>
<line x1="256.10" y1="356.0" x2="256.10" y2="360.4" stroke="#4cc83a" stroke-width="1.5" stroke-opacity="0.8"/>
<line x1="258.60" y1="356.0" x2="258.60" y2="361.1" stroke="#4cc83a" stroke-width="1.5" stroke-opacity="0.8"/>
<line x1="261.10" y1="356.0" x2="261.10" y2="361.4" stroke="#4cc83a" stroke-width="1.5" stroke-opacity="0.8"/>
<line x1="263.60" y1="356.0" x2="263.60" y2="360.1" stroke="#4cc83a" stroke-width="1.5" stroke-opacity="0.8"/>
<line x1="266.10" y1="356.0" x2="266.10" y2="359.1" stroke="#4cc83a" stroke-width="1.5" stroke-opacity="0.8"/>
<line x1="268.60" y1="356.0" x2="268.60" y2="359.5" stroke="#4cc83a" stroke-width="1.5" stroke-opacity="0.8"/>
<line x1="271.10" y1="356.0" x2="271.10" y2="361.7" stroke="#4cc83a" stroke-width="1.5" stroke-opacity="0.8"/>
<line x1="273.60" y1="356.0" x2="273.60" y2="362.3" stroke="#4cc83a" stroke-width="1.5" stroke-opacity="0.8"/>
<line x1="276.10" y1="356.0" x2="276.10" y2="364.5" stroke="#4cc83a" stroke-width="1.5" stroke-opacity="0.8"/>
<line x1="278.60" y1="356.0" x2="278.60" y2="365.2" stroke="#4cc83a" stroke-width="1.5" stroke-opacity="0.8"/>
<line x1="281.10" y1="356.0" x2="281.10" y2="363.3" stroke="#4cc83a" stroke-width="1.5" stroke-opacity="0.8"/>
<line x1="283.60" y1="356.0" x2="283.60" y2="364.4" stroke="#4cc83a" stroke-width="1.5" stroke-opacity="0.8"/>
<line x1="286.10" y1="356.0" x2="286.10" y2="364.1" stroke="#4cc83a" stroke-width="1.5" stroke-opacity="0.8"/>
<line x1="288.60" y1="356.0" x2="288.60" y2="363.1" stroke="#4cc83a" stroke-width="1.5" stroke-opacity="0.8"/>
<line x1="291.10" y1="356.0" x2="291.10" y2="359.8" stroke="#4cc83a" stroke-width="1.5" stroke-opacity="0.8"/>
<line x1="293.60" y1="356.0" x2="293.60" y2="360.1" stroke="#4cc83a" stroke-width="1.5" stroke-opacity="0.8"/>
<line x1="296.10" y1="356.0" x2="296.10" y2="360.3" stroke="#4cc83a" stroke-width="1.5" stroke-opacity="0.8"/>
<line x1="298.60" y1="356.0" x2="298.60" y2="362.3" stroke="#4cc83a" stroke-width="1.5" stroke-opacity="0.8"/>
<line x1="301.10" y1="356.0" x2="301.10" y2="362.9" stroke="#4cc83a" stroke-width="1.5" stroke-opacity="0.8"/>
<line x1="303.60" y1="356.0" x2="303.60" y2="363.8" stroke="#4cc83a" stroke-width="1.5" stroke-opacity="0.8"/>
<line x1="306.10" y1="356.0" x2="306.10" y2="363.9" stroke="#4cc83a" stroke-width="1.5" stroke-opacity="0.8"/>
<line x1="308.60" y1="356.0" x2="308.60" y2="361.8" stroke="#4cc83a" stroke-width="1.5" stroke-opacity="0.8"/>
<line x1="311.10" y1="356.0" x2="311.10" y2="360.1" stroke="#4cc83a" stroke-width="1.5" stroke-opacity="0.8"/>
<line x1="313.60" y1="356.0" x2="313.60" y2="357.3" stroke="#4cc83a" stroke-width="1.5" stroke-opacity="0.8"/>
<line x1="316.10" y1="356.0" x2="316.10" y2="358.0" stroke="#4cc83a" stroke-width="1.5" stroke-opacity="0.8"/>
<line x1="318.60" y1="356.0" x2="318.60" y2="358.5" stroke="#4cc83a" stroke-width="1.5" stroke-opacity="0.8"/>
<line x1="321.10" y1="356.0" x2="321.10" y2="358.5" stroke="#4cc83a" stroke-width="1.5" stroke-opacity="0.8"/>
<line x1="323.60" y1="356.0" x2="323.60" y2="356.8" stroke="#4cc83a" stroke-width="1.5" stroke-opacity="0.8"/>
<line x1="326.10" y1="356.0" x2="326.10" y2="356.0" stroke="#4cc83a" stroke-width="1.5" stroke-opacity="0.8"/>
<line x1="328.60" y1="356.0" x2="328.60" y2="354.6" stroke="#4cc83a" stroke-width="1.5" stroke-opacity="0.8"/>
<line x1="331.10" y1="356.0" x2="331.10" y2="352.2" stroke="#4cc83a" stroke-width="1.5" stroke-opacity="0.8"/>
<line x1="333.60" y1="356.0" x2="333.60" y2="349.0" stroke="#4cc83a" stroke-width="1.5" stroke-opacity="0.8"/>
<line x1="336.10" y1="356.0" x2="336.10" y2="347.5" stroke="#4cc83a" stroke-width="1.5" stroke-opacity="0.8"/>
<line x1="338.60" y1="356.0" x2="338.60" y2="347.4" stroke="#4cc83a" stroke-width="1.5" stroke-opacity="0.8"/>
<line x1="341.10" y1="356.0" x2="341.10" y2="346.3" stroke="#4cc83a" stroke-width="1.5" stroke-opacity="0.8"/>
<line x1="343.60" y1="356.0" x2="343.60" y2="347.1" stroke="#4cc83a" stroke-width="1.5" stroke-opacity="0.8"/>
<line x1="346.10" y1="356.0" x2="346.10" y2="347.7" stroke="#4cc83a" stroke-width="1.5" stroke-opacity="0.8"/>
<line x1="348.60" y1="356.0" x2="348.60" y2="347.7" stroke="#4cc83a" stroke-width="1.5" stroke-opacity="0.8"/>
<line x1="351.10" y1="356.0" x2="351.10" y2="348.8" stroke="#4cc83a" stroke-width="1.5" stroke-opacity="0.8"/>
<line x1="353.60" y1="356.0" x2="353.60" y2="351.5" stroke="#4cc83a" stroke-width="1.5" stroke-opacity="0.8"/>
<line x1="356.10" y1="356.0" x2="356.10" y2="355.3" stroke="#4cc83a" stroke-width="1.5" stroke-opacity="0.8"/>
<line x1="358.60" y1="356.0" x2="358.60" y2="360.2" stroke="#4cc83a" stroke-width="1.5" stroke-opacity="0.8"/>
<line x1="361.10" y1="356.0" x2="361.10" y2="363.2" stroke="#4cc83a" stroke-width="1.5" stroke-opacity="0.8"/>
<line x1="363.60" y1="356.0" x2="363.60" y2="363.7" stroke="#4cc83a" stroke-width="1.5" stroke-opacity="0.8"/>
<line x1="366.10" y1="356.0" x2="366.10" y2="365.6" stroke="#4cc83a" stroke-width="1.5" stroke-opacity="0.8"/>
<line x1="368.60" y1="356.0" x2="368.60" y2="366.0" stroke="#4cc83a" stroke-width="1.5" stroke-opacity="0.8"/>
<line x1="371.10" y1="356.0" x2="371.10" y2="364.0" stroke="#4cc83a" stroke-width="1.5" stroke-opacity="0.8"/>
<line x1="373.60" y1="356.0" x2="373.60" y2="362.2" stroke="#4cc83a" stroke-width="1.5" stroke-opacity="0.8"/>
<line x1="376.10" y1="356.0" x2="376.10" y2="360.0" stroke="#4cc83a" stroke-width="1.5" stroke-opacity="0.8"/>
<line x1="378.60" y1="356.0" x2="378.60" y2="356.2" stroke="#4cc83a" stroke-width="1.5" stroke-opacity="0.8"/>
<line x1="381.10" y1="356.0" x2="381.10" y2="353.8" stroke="#4cc83a" stroke-width="1.5" stroke-opacity="0.8"/>
<line x1="383.60" y1="356.0" x2="383.60" y2="353.5" stroke="#4cc83a" stroke-width="1.5" stroke-opacity="0.8"/>
<line x1="386.10" y1="356.0" x2="386.10" y2="353.3" stroke="#4cc83a" stroke-width="1.5" stroke-opacity="0.8"/>
<line x1="388.60" y1="356.0" x2="388.60" y2="353.8" stroke="#4cc83a" stroke-width="1.5" stroke-opacity="0.8"/>
<line x1="391.10" y1="356.0" x2="391.10" y2="353.3" stroke="#4cc83a" stroke-width="1.5" stroke-opacity="0.8"/>
<line x1="393.60" y1="356.0" x2="393.60" y2="352.8" stroke="#4cc83a" stroke-width="1.5" stroke-opacity="0.8"/>
<line x1="396.10" y1="356.0" x2="396.10" y2="352.3" stroke="#4cc83a" stroke-width="1.5" stroke-opacity="0.8"/>
<line x1="398.60" y1="356.0" x2="398.60" y2="351.0" stroke="#4cc83a" stroke-width="1.5" stroke-opacity="0.8"/>
<line x1="401.10" y1="356.0" x2="401.10" y2="350.4" stroke="#4cc83a" stroke-width="1.5" stroke-opacity="0.8"/>
<line x1="403.60" y1="356.0" x2="403.60" y2="350.9" stroke="#4cc83a" stroke-width="1.5" stroke-opacity="0.8"/>
<line x1="406.10" y1="356.0" x2="406.10" y2="352.0" stroke="#4cc83a" stroke-width="1.5" stroke-opacity="0.8"/>
<line x1="408.60" y1="356.0" x2="408.60" y2="353.0" stroke="#4cc83a" stroke-width="1.5" stroke-opacity="0.8"/>
<line x1="411.10" y1="356.0" x2="411.10" y2="353.9" stroke="#4cc83a" stroke-width="1.5" stroke-opacity="0.8"/>
<line x1="413.60" y1="356.0" x2="413.60" y2="353.2" stroke="#4cc83a" stroke-width="1.5" stroke-opacity="0.8"/>
<line x1="416.10" y1="356.0" x2="416.10" y2="353.4" stroke="#4cc83a" stroke-width="1.5" stroke-opacity="0.8"/>
<line x1="418.60" y1="356.0" x2="418.60" y2="351.7" stroke="#4cc83a" stroke-width="1.5" stroke-opacity="0.8"/>
<line x1="421.10" y1="356.0" x2="421.10" y2="350.4" stroke="#4cc83a" stroke-width="1.5" stroke-opacity="0.8"/>
<line x1="423.60" y1="356.0" x2="423.60" y2="349.2" stroke="#4cc83a" stroke-width="1.5" stroke-opacity="0.8"/>
<line x1="426.10" y1="356.0" x2="426.10" y2="349.3" stroke="#4cc83a" stroke-width="1.5" stroke-opacity="0.8"/>
<line x1="428.60" y1="356.0" x2="428.60" y2="349.6" stroke="#4cc83a" stroke-width="1.5" stroke-opacity="0.8"/>
<line x1="431.10" y1="356.0" x2="431.10" y2="350.9" stroke="#4cc83a" stroke-width="1.5" stroke-opacity="0.8"/>
<line x1="433.60" y1="356.0" x2="433.60" y2="350.2" stroke="#4cc83a" stroke-width="1.5" stroke-opacity="0.8"/>
<line x1="436.10" y1="356.0" x2="436.10" y2="349.2" stroke="#4cc83a" stroke-width="1.5" stroke-opacity="0.8"/>
<line x1="438.60" y1="356.0" x2="438.60" y2="348.0" stroke="#4cc83a" stroke-width="1.5" stroke-opacity="0.8"/>
<line x1="441.10" y1="356.0" x2="441.10" y2="347.9" stroke="#4cc83a" stroke-width="1.5" stroke-opacity="0.8"/>
<line x1="443.60" y1="356.0" x2="443.60" y2="348.8" stroke="#4cc83a" stroke-width="1.5" stroke-opacity="0.8"/>
<line x1="446.10" y1="356.0" x2="446.10" y2="348.7" stroke="#4cc83a" stroke-width="1.5" stroke-opacity="0.8"/>
<line x1="448.60" y1="356.0" x2="448.60" y2="349.1" stroke="#4cc83a" stroke-width="1.5" stroke-opacity="0.8"/>
<line x1="451.10" y1="356.0" x2="451.10" y2="350.0" stroke="#4cc83a" stroke-width="1.5" stroke-opacity="0.8"/>
<line x1="453.60" y1="356.0" x2="453.60" y2="351.0" stroke="#4cc83a" stroke-width="1.5" stroke-opacity="0.8"/>
<line x1="456.10" y1="356.0" x2="456.10" y2="352.4" stroke="#4cc83a" stroke-width="1.5" stroke-opacity="0.8"/>
<line x1="458.60" y1="356.0" x2="458.60" y2="352.0" stroke="#4cc83a" stroke-width="1.5" stroke-opacity="0.8"/>
<line x1="461.10" y1="356.0" x2="461.10" y2="352.2" stroke="#4cc83a" stroke-width="1.5" stroke-opacity="0.8"/>
<line x1="463.60" y1="356.0" x2="463.60" y2="351.4" stroke="#4cc83a" stroke-width="1.5" stroke-opacity="0.8"/>
<line x1="466.10" y1="356.0" x2="466.10" y2="351.1" stroke="#4cc83a" stroke-width="1.5" stroke-opacity="0.8"/>
<line x1="468.60" y1="356.0" x2="468.60" y2="351.1" stroke="#4cc83a" stroke-width="1.5" stroke-opacity="0.8"/>
<line x1="471.10" y1="356.0" x2="471.10" y2="352.1" stroke="#4cc83a" stroke-width="1.5" stroke-opacity="0.8"/>
<line x1="473.60" y1="356.0" x2="473.60" y2="353.0" stroke="#4cc83a" stroke-width="1.5" stroke-opacity="0.8"/>
<line x1="476.10" y1="356.0" x2="476.10" y2="354.8" stroke="#4cc83a" stroke-width="1.5" stroke-opacity="0.8"/>
<line x1="478.60" y1="356.0" x2="478.60" y2="357.8" stroke="#4cc83a" stroke-width="1.5" stroke-opacity="0.8"/>
<line x1="481.10" y1="356.0" x2="481.10" y2="359.9" stroke="#4cc83a" stroke-width="1.5" stroke-opacity="0.8"/>
<line x1="483.60" y1="356.0" x2="483.60" y2="361.0" stroke="#4cc83a" stroke-width="1.5" stroke-opacity="0.8"/>
<line x1="486.10" y1="356.0" x2="486.10" y2="360.6" stroke="#4cc83a" stroke-width="1.5" stroke-opacity="0.8"/>
<line x1="488.60" y1="356.0" x2="488.60" y2="362.7" stroke="#4cc83a" stroke-width="1.5" stroke-opacity="0.8"/>
<line x1="491.10" y1="356.0" x2="491.10" y2="364.2" stroke="#4cc83a" stroke-width="1.5" stroke-opacity="0.8"/>
<line x1="493.60" y1="356.0" x2="493.60" y2="365.7" stroke="#4cc83a" stroke-width="1.5" stroke-opacity="0.8"/>
<line x1="496.10" y1="356.0" x2="496.10" y2="366.7" stroke="#4cc83a" stroke-width="1.5" stroke-opacity="0.8"/>
<line x1="498.60" y1="356.0" x2="498.60" y2="366.7" stroke="#4cc83a" stroke-width="1.5" stroke-opacity="0.8"/>
<line x1="501.10" y1="356.0" x2="501.10" y2="366.9" stroke="#4cc83a" stroke-width="1.5" stroke-opacity="0.8"/>
<line x1="503.60" y1="356.0" x2="503.60" y2="366.8" stroke="#4cc83a" stroke-width="1.5" stroke-opacity="0.8"/>
<line x1="506.10" y1="356.0" x2="506.10" y2="364.9" stroke="#4cc83a" stroke-width="1.5" stroke-opacity="0.8"/>
<line x1="508.60" y1="356.0" x2="508.60" y2="362.8" stroke="#4cc83a" stroke-width="1.5" stroke-opacity="0.8"/>
<line x1="511.10" y1="356.0" x2="511.10" y2="360.1" stroke="#4cc83a" stroke-width="1.5" stroke-opacity="0.8"/>
<line x1="513.60" y1="356.0" x2="513.60" y2="357.4" stroke="#4cc83a" stroke-width="1.5" stroke-opacity="0.8"/>
<line x1="516.10" y1="356.0" x2="516.10" y2="358.6" stroke="#4cc83a" stroke-width="1.5" stroke-opacity="0.8"/>
<line x1="518.60" y1="356.0" x2="518.60" y2="359.0" stroke="#4cc83a" stroke-width="1.5" stroke-opacity="0.8"/>
<line x1="521.10" y1="356.0" x2="521.10" y2="359.8" stroke="#4cc83a" stroke-width="1.5" stroke-opacity="0.8"/>
<line x1="523.60" y1="356.0" x2="523.60" y2="360.5" stroke="#4cc83a" stroke-width="1.5" stroke-opacity="0.8"/>
<line x1="526.10" y1="356.0" x2="526.10" y2="360.2" stroke="#4cc83a" stroke-width="1.5" stroke-opacity="0.8"/>
<line x1="528.60" y1="356.0" x2="528.60" y2="360.4" stroke="#4cc83a" stroke-width="1.5" stroke-opacity="0.8"/>
<line x1="531.10" y1="356.0" x2="531.10" y2="361.4" stroke="#4cc83a" stroke-width="1.5" stroke-opacity="0.8"/>
<line x1="533.60" y1="356.0" x2="533.60" y2="362.1" stroke="#4cc83a" stroke-width="1.5" stroke-opacity="0.8"/>
<line x1="536.10" y1="356.0" x2="536.10" y2="363.3" stroke="#4cc83a" stroke-width="1.5" stroke-opacity="0.8"/>
<line x1="538.60" y1="356.0" x2="538.60" y2="364.1" stroke="#4cc83a" stroke-width="1.5" stroke-opacity="0.8"/>
<line x1="541.10" y1="356.0" x2="541.10" y2="364.2" stroke="#4cc83a" stroke-width="1.5" stroke-opacity="0.8"/>
<line x1="543.60" y1="356.0" x2="543.60" y2="362.5" stroke="#4cc83a" stroke-width="1.5" stroke-opacity="0.8"/>
<line x1="546.10" y1="356.0" x2="546.10" y2="362.2" stroke="#4cc83a" stroke-width="1.5" stroke-opacity="0.8"/>
<line x1="548.60" y1="356.0" x2="548.60" y2="362.4" stroke="#4cc83a" stroke-width="1.5" stroke-opacity="0.8"/>
<line x1="551.10" y1="356.0" x2="551.10" y2="360.4" stroke="#4cc83a" stroke-width="1.5" stroke-opacity="0.8"/>
<line x1="553.60" y1="356.0" x2="553.60" y2="356.8" stroke="#4cc83a" stroke-width="1.5" stroke-opacity="0.8"/>
<line x1="556.10" y1="356.0" x2="556.10" y2="354.4" stroke="#4cc83a" stroke-width="1.5" stroke-opacity="0.8"/>
<line x1="558.60" y1="356.0" x2="558.60" y2="353.4" stroke="#4cc83a" stroke-width="1.5" stroke-opacity="0.8"/>
<line x1="561.10" y1="356.0" x2="561.10" y2="354.5" stroke="#4cc83a" stroke-width="1.5" stroke-opacity="0.8"/>
<line x1="563.60" y1="356.0" x2="563.60" y2="355.5" stroke="#4cc83a" stroke-width="1.5" stroke-opacity="0.8"/>
<line x1="566.10" y1="356.0" x2="566.10" y2="356.4" stroke="#4cc83a" stroke-width="1.5" stroke-opacity="0.8"/>
<line x1="568.60" y1="356.0" x2="568.60" y2="356.9" stroke="#4cc83a" stroke-width="1.5" stroke-opacity="0.8"/>
<line x1="571.10" y1="356.0" x2="571.10" y2="355.4" stroke="#4cc83a" stroke-width="1.5" stroke-opacity="0.8"/>
<line x1="573.60" y1="356.0" x2="573.60" y2="355.7" stroke="#4cc83a" stroke-width="1.5" stroke-opacity="0.8"/>
<line x1="576.10" y1="356.0" x2="576.10" y2="354.1" stroke="#4cc83a" stroke-width="1.5" stroke-opacity="0.8"/>
<line x1="578.60" y1="356.0" x2="578.60" y2="352.3" stroke="#4cc83a" stroke-width="1.5" stroke-opacity="0.8"/>
<line x1="581.10" y1="356.0" x2="581.10" y2="351.6" stroke="#4cc83a" stroke-width="1.5" stroke-opacity="0.8"/>
<line x1="583.60" y1="356.0" x2="583.60" y2="351.6" stroke="#4cc83a" stroke-width="1.5" stroke-opacity="0.8"/>
<line x1="586.10" y1="356.0" x2="586.10" y2="350.3" stroke="#4cc83a" stroke-width="1.5" stroke-opacity="0.8"/>
<line x1="588.60" y1="356.0" x2="588.60" y2="348.8" stroke="#4cc83a" stroke-width="1.5" stroke-opacity="0.8"/>
<line x1="591.10" y1="356.0" x2="591.10" y2="347.0" stroke="#4cc83a" stroke-width="1.5" stroke-opacity="0.8"/>
<line x1="593.60" y1="356.0" x2="593.60" y2="346.7" stroke="#4cc83a" stroke-width="1.5" stroke-opacity="0.8"/>
<line x1="596.10" y1="356.0" x2="596.10" y2="347.4" stroke="#4cc83a" stroke-width="1.5" stroke-opacity="0.8"/>
<line x1="598.60" y1="356.0" x2="598.60" y2="346.5" stroke="#4cc83a" stroke-width="1.5" stroke-opacity="0.8"/>
<line x1="601.10" y1="356.0" x2="601.10" y2="346.9" stroke="#4cc83a" stroke-width="1.5" stroke-opacity="0.8"/>
<line x1="603.60" y1="356.0" x2="603.60" y2="347.8" stroke="#4cc83a" stroke-width="1.5" stroke-opacity="0.8"/>
<line x1="606.10" y1="356.0" x2="606.10" y2="350.5" stroke="#4cc83a" stroke-width="1.5" stroke-opacity="0.8"/>
<line x1="608.60" y1="356.0" x2="608.60" y2="353.1" stroke="#4cc83a" stroke-width="1.5" stroke-opacity="0.8"/>
<line x1="611.10" y1="356.0" x2="611.10" y2="354.0" stroke="#4cc83a" stroke-width="1.5" stroke-opacity="0.8"/>
<line x1="613.60" y1="356.0" x2="613.60" y2="354.0" stroke="#4cc83a" stroke-width="1.5" stroke-opacity="0.8"/>
<line x1="616.10" y1="356.0" x2="616.10" y2="353.8" stroke="#4cc83a" stroke-width="1.5" stroke-opacity="0.8"/>
<line x1="618.60" y1="356.0" x2="618.60" y2="355.2" stroke="#4cc83a" stroke-width="1.5" stroke-opacity="0.8"/>
<line x1="621.10" y1="356.0" x2="621.10" y2="352.5" stroke="#4cc83a" stroke-width="1.5" stroke-opacity="0.8"/>
<line x1="623.60" y1="356.0" x2="623.60" y2="350.4" stroke="#4cc83a" stroke-width="1.5" stroke-opacity="0.8"/>
<line x1="626.10" y1="356.0" x2="626.10" y2="350.1" stroke="#4cc83a" stroke-width="1.5" stroke-opacity="0.8"/>
<line x1="628.60" y1="356.0" x2="628.60" y2="349.6" stroke="#4cc83a" stroke-width="1.5" stroke-opacity="0.8"/>
<line x1="631.10" y1="356.0" x2="631.10" y2="350.2" stroke="#4cc83a" stroke-width="1.5" stroke-opacity="0.8"/>
<line x1="633.60" y1="356.0" x2="633.60" y2="351.2" stroke="#4cc83a" stroke-width="1.5" stroke-opacity="0.8"/>
<line x1="636.10" y1="356.0" x2="636.10" y2="351.9" stroke="#4cc83a" stroke-width="1.5" stroke-opacity="0.8"/>
<line x1="638.60" y1="356.0" x2="638.60" y2="352.8" stroke="#4cc83a" stroke-width="1.5" stroke-opacity="0.8"/>
<line x1="641.10" y1="356.0" x2="641.10" y2="352.8" stroke="#4cc83a" stroke-width="1.5" stroke-opacity="0.8"/>
<line x1="643.60" y1="356.0" x2="643.60" y2="352.6" stroke="#4cc83a" stroke-width="1.5" stroke-opacity="0.8"/>
<line x1="646.10" y1="356.0" x2="646.10" y2="352.9" stroke="#4cc83a" stroke-width="1.5" stroke-opacity="0.8"/>
<line x1="648.60" y1="356.0" x2="648.60" y2="354.3" stroke="#4cc83a" stroke-width="1.5" stroke-opacity="0.8"/>
<line x1="651.10" y1="356.0" x2="651.10" y2="355.6" stroke="#4cc83a" stroke-width="1.5" stroke-opacity="0.8"/>
<line x1="653.60" y1="356.0" x2="653.60" y2="354.4" stroke="#4cc83a" stroke-width="1.5" stroke-opacity="0.8"/>
<line x1="656.10" y1="356.0" x2="656.10" y2="354.0" stroke="#4cc83a" stroke-width="1.5" stroke-opacity="0.8"/>
<line x1="658.60" y1="356.0" x2="658.60" y2="354.0" stroke="#4cc83a" stroke-width="1.5" stroke-opacity="0.8"/>
<line x1="661.10" y1="356.0" x2="661.10" y2="355.5" stroke="#4cc83a" stroke-width="1.5" stroke-opacity="0.8"/>
<line x1="663.60" y1="356.0" x2="663.60" y2="357.6" stroke="#4cc83a" stroke-width="1.5" stroke-opacity="0.8"/>
<line x1="666.10" y1="356.0" x2="666.10" y2="359.1" stroke="#4cc83a" stroke-width="1.5" stroke-opacity="0.8"/>
<line x1="668.60" y1="356.0" x2="668.60" y2="359.5" stroke="#4cc83a" stroke-width="1.5" stroke-opacity="0.8"/>
<line x1="671.10" y1="356.0" x2="671.10" y2="360.2" stroke="#4cc83a" stroke-width="1.5" stroke-opacity="0.8"/>
<line x1="673.60" y1="356.0" x2="673.60" y2="359.5" stroke="#4cc83a" stroke-width="1.5" stroke-opacity="0.8"/>
<line x1="676.10" y1="356.0" x2="676.10" y2="358.5" stroke="#4cc83a" stroke-width="1.5" stroke-opacity="0.8"/>
<line x1="678.60" y1="356.0" x2="678.60" y2="358.3" stroke="#4cc83a" stroke-width="1.5" stroke-opacity="0.8"/>
<line x1="681.10" y1="356.0" x2="681.10" y2="359.8" stroke="#4cc83a" stroke-width="1.5" stroke-opacity="0.8"/>
<line x1="683.60" y1="356.0" x2="683.60" y2="361.4" stroke="#4cc83a" stroke-width="1.5" stroke-opacity="0.8"/>
<line x1="686.10" y1="356.0" x2="686.10" y2="362.8" stroke="#4cc83a" stroke-width="1.5" stroke-opacity="0.8"/>
<line x1="688.60" y1="356.0" x2="688.60" y2="363.3" stroke="#4cc83a" stroke-width="1.5" stroke-opacity="0.8"/>
<line x1="691.10" y1="356.0" x2="691.10" y2="362.3" stroke="#4cc83a" stroke-width="1.5" stroke-opacity="0.8"/>
<line x1="693.60" y1="356.0" x2="693.60" y2="362.3" stroke="#4cc83a" stroke-width="1.5" stroke-opacity="0.8"/>
<line x1="696.10" y1="356.0" x2="696.10" y2="361.6" stroke="#4cc83a" stroke-width="1.5" stroke-opacity="0.8"/>
<line x1="698.60" y1="356.0" x2="698.60" y2="361.1" stroke="#4cc83a" stroke-width="1.5" stroke-opacity="0.8"/>
<line x1="701.10" y1="356.0" x2="701.10" y2="361.3" stroke="#4cc83a" stroke-width="1.5" stroke-opacity="0.8"/>
<line x1="703.60" y1="356.0" x2="703.60" y2="360.0" stroke="#4cc83a" stroke-width="1.5" stroke-opacity="0.8"/>
<line x1="706.10" y1="356.0" x2="706.10" y2="359.1" stroke="#4cc83a" stroke-width="1.5" stroke-opacity="0.8"/>
<line x1="708.60" y1="356.0" x2="708.60" y2="358.6" stroke="#4cc83a" stroke-width="1.5" stroke-opacity="0.8"/>
<line x1="711.10" y1="356.0" x2="711.10" y2="357.6" stroke="#4cc83a" stroke-width="1.5" stroke-opacity="0.8"/>
<line x1="713.60" y1="356.0" x2="713.60" y2="357.6" stroke="#4cc83a" stroke-width="1.5" stroke-opacity="0.8"/>
<line x1="716.10" y1="356.0" x2="716.10" y2="356.0" stroke="#4cc83a" stroke-width="1.5" stroke-opacity="0.8"/>
<line x1="718.60" y1="356.0" x2="718.60" y2="355.0" stroke="#4cc83a" stroke-width="1.5" stroke-opacity="0.8"/>
<line x1="721.10" y1="356.0" x2="721.10" y2="353.9" stroke="#4cc83a" stroke-width="1.5" stroke-opacity="0.8"/>
<line x1="723.60" y1="356.0" x2="723.60" y2="352.4" stroke="#4cc83a" stroke-width="1.5" stroke-opacity="0.8"/>
<line x1="726.10" y1="356.0" x2="726.10" y2="351.6" stroke="#4cc83a" stroke-width="1.5" stroke-opacity="0.8"/>
<polyline points="1.10,340.4 3.60,340.9 6.10,341.2 8.60,341.6 11.10,342.5 13.60,343.2 16.10,343.6 18.60,346.3 21.10,347.3 23.60,350.1 26.10,353.4 28.60,354.7 31.10,356.6 33.60,356.9 36.10,355.1 38.60,353.4 41.10,352.9 43.60,351.5 46.10,351.4 48.60,352.1 51.10,351.1 53.60,351.2 56.10,352.4 58.60,354.5 61.10,354.4 63.60,353.4 66.10,351.9 68.60,349.5 71.10,347.8 73.60,346.3 76.10,345.7 78.60,345.5 81.10,344.8 83.60,344.5 86.10,346.4 88.60,348.0 91.10,349.8 93.60,351.5 96.10,351.9 98.60,352.0 101.10,353.5 103.60,354.7 106.10,357.4 108.60,360.5 111.10,363.9 113.60,368.3 116.10,371.4 118.60,374.7 121.10,377.3 123.60,379.5 126.10,378.8 128.60,376.2 131.10,373.2 133.60,369.8 136.10,369.4 138.60,368.4 141.10,367.8 143.60,366.4 146.10,363.8 148.60,363.5 151.10,364.9 153.60,366.3 156.10,365.8 158.60,365.2 161.10,366.7 163.60,368.4 166.10,370.5 168.60,373.7 171.10,374.6 173.60,373.1 176.10,372.0 178.60,372.3 181.10,370.7 183.60,369.8 186.10,369.6 188.60,372.0 191.10,374.4 193.60,373.8 196.10,373.5 198.60,374.2 201.10,375.3 203.60,374.0 206.10,370.7 208.60,366.8 211.10,362.6 213.60,359.2 216.10,355.4 218.60,353.7 221.10,351.0 223.60,348.4 226.10,345.9 228.60,342.7 231.10,341.1 233.60,341.5 236.10,341.6 238.60,341.1 241.10,342.1 243.60,344.0 246.10,345.2 248.60,346.5 251.10,349.2 253.60,351.8 256.10,352.8 258.60,354.8 261.10,356.4 263.60,356.1 266.10,356.0 268.60,357.2 271.10,360.8 273.60,363.0 276.10,367.3 278.60,370.3 281.10,370.3 283.60,373.4 286.10,375.2 288.60,376.0 291.10,373.6 293.60,374.9 296.10,376.2 298.60,379.8 301.10,382.1 303.60,385.0 306.10,387.1 308.60,386.3 311.10,385.7 313.60,383.2 316.10,384.5 318.60,385.6 321.10,386.1 323.60,384.7 326.10,383.9 328.60,382.2 331.10,378.8 333.60,373.8 336.10,370.2 338.60,367.9 341.10,364.4 343.60,363.0 346.10,361.5 348.60,359.4 351.10,358.7 353.60,360.3 356.10,363.9 358.60,369.9 361.10,374.7 363.60,377.1 366.10,381.4 368.60,384.3 371.10,384.3 373.60,384.1 376.10,382.8 378.60,379.1 381.10,376.1 383.60,375.2 386.10,374.4 388.60,374.3 391.10,373.1 393.60,371.8 396.10,370.4 398.60,367.9 401.10,365.8 403.60,365.1 406.10,365.1 408.60,365.4 411.10,365.8 413.60,364.4 416.10,364.0 418.60,361.2 421.10,358.5 423.60,355.6 426.10,354.1 428.60,352.8 431.10,352.8 433.60,350.6 436.10,348.0 438.60,344.8 441.10,342.6 443.60,341.7 446.10,339.7 448.60,338.5 451.10,337.8 453.60,337.6 456.10,338.1 458.60,336.8 461.10,336.0 463.60,334.1 466.10,332.5 468.60,331.3 471.10,331.3 473.60,331.4 476.10,332.9 478.60,336.3 481.10,339.4 483.60,341.8 486.10,342.5 488.60,346.3 491.10,349.9 493.60,353.8 496.10,357.5 498.60,360.1 501.10,363.1 503.60,365.6 506.10,366.0 508.60,365.6 511.10,363.9 513.60,361.6 516.10,363.4 518.60,364.5 521.10,366.2 523.60,368.1 526.10,368.8 528.60,370.2 531.10,372.5 533.60,374.8 536.10,377.7 538.60,380.6 541.10,382.8 543.60,382.6 546.10,383.9 548.60,385.7 551.10,384.9 553.60,381.4 556.10,378.6 558.60,377.0 561.10,377.7 563.60,378.6 566.10,379.6 568.60,380.3 571.10,378.6 573.60,378.9 576.10,376.8 578.60,374.1 581.10,372.2 583.60,371.2 586.10,368.4 588.60,365.1 591.10,361.1 593.60,358.5 596.10,357.0 598.60,353.8 601.10,351.9 603.60,350.8 606.10,352.0 608.60,353.9 611.10,354.3 613.60,353.9 616.10,353.1 618.60,354.2 621.10,350.7 623.60,347.3 626.10,345.4 628.60,343.3 631.10,342.5 633.60,342.3 636.10,341.9 638.60,342.1 641.10,341.3 643.60,340.3 646.10,339.7 648.60,340.8 651.10,341.9 653.60,340.3 656.10,339.4 658.60,338.9 661.10,340.3 663.60,342.8 666.10,345.0 668.60,346.3 671.10,348.0 673.60,348.3 676.10,347.9 678.60,348.2 681.10,350.7 683.60,353.7 686.10,356.7 688.60,359.0 691.10,359.6 693.60,361.2 696.10,361.9 698.60,362.7 701.10,364.3 703.60,364.0 706.10,363.9 708.60,364.0 711.10,363.4 713.60,363.8 716.10,362.2 718.60,360.9 721.10,359.3 723.60,356.9 726.10,355.0" fill="none" stroke="#d0c8c8" stroke-width="0.8"/>
<polyline points="1.10,340.3 3.60,340.5 6.10,340.6 8.60,340.8 11.10,341.1 13.60,341.5 16.10,342.0 18.60,342.8 21.10,343.7 23.60,345.0 26.10,346.7 28.60,348.3 31.10,350.0 33.60,351.3 36.10,352.1 38.60,352.4 41.10,352.5 43.60,352.3 46.10,352.1 48.60,352.1 51.10,351.9 53.60,351.8 56.10,351.9 58.60,352.4 61.10,352.8 63.60,352.9 66.10,352.7 68.60,352.1 71.10,351.2 73.60,350.2 76.10,349.3 78.60,348.6 81.10,347.8 83.60,347.2 86.10,347.0 88.60,347.2 91.10,347.7 93.60,348.5 96.10,349.2 98.60,349.7 101.10,350.5 103.60,351.3 106.10,352.5 108.60,354.1 111.10,356.1 113.60,358.5 116.10,361.1 118.60,363.8 121.10,366.5 123.60,369.1 126.10,371.0 128.60,372.1 131.10,372.3 133.60,371.8 136.10,371.3 138.60,370.7 141.10,370.1 143.60,369.4 146.10,368.3 148.60,367.3 151.10,366.8 153.60,366.7 156.10,366.6 158.60,366.3 161.10,366.4 163.60,366.8 166.10,367.5 168.60,368.7 171.10,369.9 173.60,370.6 176.10,370.8 178.60,371.1 181.10,371.0 183.60,370.8 186.10,370.5 188.60,370.8 191.10,371.6 193.60,372.0 196.10,372.3 198.60,372.7 201.10,373.2 203.60,373.3 206.10,372.8 208.60,371.6 211.10,369.8 213.60,367.7 216.10,365.2 218.60,362.9 221.10,360.5 223.60,358.1 226.10,355.7 228.60,353.1 231.10,350.7 233.60,348.8 236.10,347.4 238.60,346.1 241.10,345.3 243.60,345.0 246.10,345.1 248.60,345.4 251.10,346.1 253.60,347.3 256.10,348.4 258.60,349.7 261.10,351.0 263.60,352.0 266.10,352.8 268.60,353.7 271.10,355.1 273.60,356.7 276.10,358.8 278.60,361.1 281.10,363.0 283.60,365.1 286.10,367.1 288.60,368.9 291.10,369.8 293.60,370.8 296.10,371.9 298.60,373.5 301.10,375.2 303.60,377.1 306.10,379.1 308.60,380.6 311.10,381.6 313.60,381.9 316.10,382.4 318.60,383.1 321.10,383.7 323.60,383.9 326.10,383.9 328.60,383.5 331.10,382.6 333.60,380.8 336.10,378.7 338.60,376.6 341.10,374.1 343.60,371.9 346.10,369.8 348.60,367.7 351.10,365.9 353.60,364.8 356.10,364.6 358.60,365.7 361.10,367.5 363.60,369.4 366.10,371.8 368.60,374.3 371.10,376.3 373.60,377.8 376.10,378.8 378.60,378.9 381.10,378.3 383.60,377.7 386.10,377.0 388.60,376.5 391.10,375.8 393.60,375.0 396.10,374.1 398.60,372.8 401.10,371.4 403.60,370.2 406.10,369.2 408.60,368.4 411.10,367.9 413.60,367.2 416.10,366.5 418.60,365.5 421.10,364.1 423.60,362.4 426.10,360.7 428.60,359.1 431.10,357.9 433.60,356.4 436.10,354.7 438.60,352.7 441.10,350.7 443.60,348.9 446.10,347.1 448.60,345.3 451.10,343.8 453.60,342.6 456.10,341.7 458.60,340.7 461.10,339.8 463.60,338.6 466.10,337.4 468.60,336.2 471.10,335.2 473.60,334.4 476.10,334.1 478.60,334.6 481.10,335.6 483.60,336.8 486.10,337.9 488.60,339.6 491.10,341.7 493.60,344.1 496.10,346.8 498.60,349.4 501.10,352.2 503.60,354.9 506.10,357.1 508.60,358.8 511.10,359.8 513.60,360.2 516.10,360.8 518.60,361.6 521.10,362.5 523.60,363.6 526.10,364.6 528.60,365.8 531.10,367.1 533.60,368.6 536.10,370.5 538.60,372.5 541.10,374.5 543.60,376.2 546.10,377.7 548.60,379.3 551.10,380.4 553.60,380.6 556.10,380.2 558.60,379.6 561.10,379.2 563.60,379.1 566.10,379.2 568.60,379.4 571.10,379.2 573.60,379.2 576.10,378.7 578.60,377.8 581.10,376.7 583.60,375.6 586.10,374.1 588.60,372.3 591.10,370.1 593.60,367.8 596.10,365.6 598.60,363.3 601.10,361.0 603.60,358.9 606.10,357.6 608.60,356.8 611.10,356.3 613.60,355.8 616.10,355.3 618.60,355.1 621.10,354.2 623.60,352.8 626.10,351.3 628.60,349.7 631.10,348.3 633.60,347.1 636.10,346.1 638.60,345.3 641.10,344.5 643.60,343.6 646.10,342.9 648.60,342.4 651.10,342.3 653.60,341.9 656.10,341.4 658.60,340.9 661.10,340.8 663.60,341.2 666.10,342.0 668.60,342.8 671.10,343.9 673.60,344.7 676.10,345.4 678.60,345.9 681.10,346.9 683.60,348.3 686.10,349.9 688.60,351.8 691.10,353.3 693.60,354.9 696.10,356.3 698.60,357.6 701.10,358.9 703.60,359.9 706.10,360.7 708.60,361.4 711.10,361.8 713.60,362.2 716.10,362.2 718.60,361.9 721.10,361.4 723.60,360.5 726.10,359.4" fill="none" stroke="#a03030" stroke-width="0.8"/>
<!-- x labels -->
<g font-size="6.8" lengthAdjust="spacingAndGlyphs" style="fill:#c4c4c4">
<text x="46.5" y="399.7" textLength="9.9" lengthAdjust="spacingAndGlyphs">Dec</text>
<text x="98.9" y="399.7" textLength="10.5" lengthAdjust="spacingAndGlyphs">Jan</text>
<text x="147.4" y="399.7" textLength="10.2" lengthAdjust="spacingAndGlyphs">Feb</text>
<text x="199.6" y="399.7" textLength="9.6" lengthAdjust="spacingAndGlyphs">Mar</text>
<text x="253.8" y="399.7" textLength="9.2" lengthAdjust="spacingAndGlyphs">Apr</text>
<text x="305.3" y="399.7" textLength="9.8" lengthAdjust="spacingAndGlyphs">May</text>
<text x="357.4" y="399.7" textLength="9.8" lengthAdjust="spacingAndGlyphs">Jun</text>
<text x="409.5" y="399.7" textLength="9.4" lengthAdjust="spacingAndGlyphs">Jul</text>
<text x="462.4" y="399.7" textLength="10.3" lengthAdjust="spacingAndGlyphs">Aug</text>
<text x="517" y="399.7" textLength="10.4" lengthAdjust="spacingAndGlyphs">Sep</text>
<text x="570.6" y="399.7" textLength="9.6" lengthAdjust="spacingAndGlyphs">Oct</text>
<text x="621.8" y="399.7" textLength="10.2" lengthAdjust="spacingAndGlyphs">Nov</text>
<text x="675" y="399.7" textLength="9.9" lengthAdjust="spacingAndGlyphs">Dec</text>
<text x="728" y="399.7" textLength="9.4" lengthAdjust="spacingAndGlyphs">Jan</text>
<text x="778.8" y="399.7" textLength="10.2" lengthAdjust="spacingAndGlyphs">Feb</text>
<text x="32.3" y="405.7" font-size="6.6" textLength="12.8" lengthAdjust="spacingAndGlyphs">2021</text>
<text x="386" y="405.7" font-size="6.6" textLength="12.8" lengthAdjust="spacingAndGlyphs">2022</text>
<text x="753.5" y="405.7" font-size="6.6" textLength="12.8" lengthAdjust="spacingAndGlyphs">2023</text>
<text x="1.4" y="412.7" font-size="6.4" textLength="172.4" lengthAdjust="spacingAndGlyphs">SPX Index (S&amp;P 500 INDEX) DAILY  Daily 13JUN2019-12JAN2023</text>
<text x="424.6" y="412.5" font-size="6.4" textLength="110.6" lengthAdjust="spacingAndGlyphs">Copyright© 2023 Bloomberg Finance L.P.</text>
<text x="786.3" y="413" font-size="6.4" textLength="58.7" lengthAdjust="spacingAndGlyphs">12-Jan-2023 12:06:20</text>
</g>
<rect x="78.2" y="393" width="0.8" height="13" fill="#bbb"/>
<rect x="705.8" y="393" width="0.8" height="12" fill="#bbb"/>
</svg>
</body></html>
